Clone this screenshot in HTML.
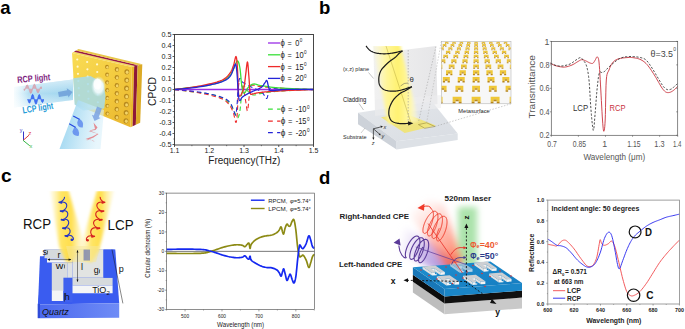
<!DOCTYPE html>
<html><head><meta charset="utf-8"><style>
html,body{margin:0;padding:0;background:#fff;}
body{width:685px;height:329px;overflow:hidden;}
svg{display:block;font-family:"Liberation Sans", sans-serif;}
</style></head><body>
<svg width="685" height="329" viewBox="0 0 685 329">
<text x="0.30" y="14.20" font-size="18.5" fill="#000" text-anchor="start" font-weight="bold">a</text>
<text x="319.00" y="14.20" font-size="18.5" fill="#000" text-anchor="start" font-weight="bold">b</text>
<text x="0.90" y="182.30" font-size="19.2" fill="#000" text-anchor="start" font-weight="bold">c</text>
<text x="319.00" y="184.00" font-size="18.5" fill="#000" text-anchor="start" font-weight="bold">d</text>
<defs>
<linearGradient id="beamIn" x1="0" y1="0" x2="1" y2="0">
 <stop offset="0" stop-color="#cfeefa" stop-opacity="0.2"/>
 <stop offset="0.25" stop-color="#b2def2" stop-opacity="0.95"/>
 <stop offset="1" stop-color="#9dd4ee" stop-opacity="1"/>
</linearGradient>
<linearGradient id="beamInV" x1="0" y1="0" x2="0" y2="1">
 <stop offset="0" stop-color="#fff" stop-opacity="0.55"/>
 <stop offset="0.5" stop-color="#fff" stop-opacity="0"/>
 <stop offset="1" stop-color="#fff" stop-opacity="0.55"/>
</linearGradient>
<linearGradient id="beamOut" x1="0" y1="0" x2="1" y2="0.25">
 <stop offset="0" stop-color="#8ccfee" stop-opacity="0.95"/>
 <stop offset="0.5" stop-color="#b4e0f4" stop-opacity="0.85"/>
 <stop offset="1" stop-color="#d8f0fa" stop-opacity="0.6"/>
</linearGradient>
<linearGradient id="gold" x1="0" y1="0" x2="1" y2="1">
 <stop offset="0" stop-color="#f9dc55"/>
 <stop offset="0.5" stop-color="#f4cc40"/>
 <stop offset="1" stop-color="#e8b42c"/>
</linearGradient>
<radialGradient id="spot" cx="0.5" cy="0.5" r="0.5">
 <stop offset="0" stop-color="#ffffff" stop-opacity="0.95"/>
 <stop offset="0.5" stop-color="#e6f6fb" stop-opacity="0.8"/>
 <stop offset="1" stop-color="#bfe6f3" stop-opacity="0"/>
</radialGradient>
<linearGradient id="hole" x1="0" y1="0" x2="1" y2="1">
 <stop offset="0" stop-color="#8a6a18"/>
 <stop offset="1" stop-color="#f2d46a"/>
</linearGradient>
</defs>
<polygon points="14.00,87.00 73.00,79.50 73.00,100.00 14.00,107.50" fill="url(#beamIn)"/>
<polygon points="14.00,87.00 73.00,79.50 73.00,100.00 14.00,107.50" fill="url(#beamInV)"/>
<polygon points="72.00,53.00 131.90,66.90 135.02,66.09 73.95,51.80" fill="#f4d860"/>
<polygon points="73.95,51.80 135.02,66.09 138.35,65.23 76.03,50.52" fill="#9a1a40"/>
<polygon points="76.03,50.52 138.35,65.23 142.30,64.20 78.50,49.00" fill="#e8c64a"/>
<polygon points="131.90,66.90 130.50,127.20 132.63,126.23 134.19,66.31" fill="#e9b92c"/>
<polygon points="134.19,66.31 132.63,126.23 135.83,124.78 137.62,65.42" fill="#8e1838"/>
<polygon points="137.62,65.42 135.83,124.78 140.20,122.80 142.30,64.20" fill="#dcaa26"/>
<polygon points="72.00,53.00 131.90,66.90 130.50,127.20 75.00,104.50" fill="url(#gold)"/>
<circle cx="77.26" cy="59.52" r="1.1" fill="#fffbd8" opacity="0.95"/>
<circle cx="77.62" cy="66.68" r="1.1" fill="#fffbd8" opacity="0.95"/>
<circle cx="77.98" cy="73.84" r="1.1" fill="#fffbd8" opacity="0.95"/>
<circle cx="78.34" cy="80.99" r="1.1" fill="#fffbd8" opacity="0.95"/>
<circle cx="78.71" cy="88.15" r="1.1" fill="#fffbd8" opacity="0.95"/>
<circle cx="79.07" cy="95.30" r="1.1" fill="#fffbd8" opacity="0.95"/>
<circle cx="79.43" cy="102.46" r="1.1" fill="#fffbd8" opacity="0.95"/>
<circle cx="87.17" cy="61.99" r="1.1" fill="#fffbd8" opacity="0.95"/>
<circle cx="87.43" cy="69.35" r="1.1" fill="#fffbd8" opacity="0.95"/>
<circle cx="87.69" cy="76.70" r="1.1" fill="#fffbd8" opacity="0.95"/>
<circle cx="87.95" cy="84.06" r="1.1" fill="#fffbd8" opacity="0.95"/>
<circle cx="88.21" cy="91.42" r="1.1" fill="#fffbd8" opacity="0.95"/>
<circle cx="88.47" cy="98.77" r="1.1" fill="#fffbd8" opacity="0.95"/>
<circle cx="88.73" cy="106.13" r="1.1" fill="#fffbd8" opacity="0.95"/>
<circle cx="97.08" cy="64.46" r="1.1" fill="#fffbd8" opacity="0.95"/>
<circle cx="97.24" cy="72.02" r="1.1" fill="#fffbd8" opacity="0.95"/>
<circle cx="97.40" cy="79.57" r="1.1" fill="#fffbd8" opacity="0.95"/>
<circle cx="97.56" cy="87.13" r="1.1" fill="#fffbd8" opacity="0.95"/>
<circle cx="97.72" cy="94.69" r="1.1" fill="#fffbd8" opacity="0.95"/>
<circle cx="97.88" cy="102.24" r="1.1" fill="#fffbd8" opacity="0.95"/>
<circle cx="98.04" cy="109.80" r="1.1" fill="#fffbd8" opacity="0.95"/>
<ellipse cx="106.99" cy="66.93" rx="1.90" ry="2.09" fill="#b88a1e"/>
<ellipse cx="107.34" cy="67.33" rx="1.18" ry="1.33" fill="#f3d468"/>
<ellipse cx="107.05" cy="74.68" rx="1.90" ry="2.09" fill="#b88a1e"/>
<ellipse cx="107.40" cy="75.08" rx="1.18" ry="1.33" fill="#f3d468"/>
<ellipse cx="107.10" cy="82.44" rx="1.90" ry="2.09" fill="#b88a1e"/>
<ellipse cx="107.45" cy="82.84" rx="1.18" ry="1.33" fill="#f3d468"/>
<ellipse cx="107.16" cy="90.20" rx="1.90" ry="2.09" fill="#b88a1e"/>
<ellipse cx="107.51" cy="90.60" rx="1.18" ry="1.33" fill="#f3d468"/>
<ellipse cx="107.22" cy="97.96" rx="1.90" ry="2.09" fill="#b88a1e"/>
<ellipse cx="107.57" cy="98.36" rx="1.18" ry="1.33" fill="#f3d468"/>
<ellipse cx="107.28" cy="105.72" rx="1.90" ry="2.09" fill="#b88a1e"/>
<ellipse cx="107.63" cy="106.12" rx="1.18" ry="1.33" fill="#f3d468"/>
<ellipse cx="107.34" cy="113.47" rx="1.90" ry="2.09" fill="#b88a1e"/>
<ellipse cx="107.69" cy="113.87" rx="1.18" ry="1.33" fill="#f3d468"/>
<ellipse cx="116.89" cy="69.39" rx="2.15" ry="2.37" fill="#b88a1e"/>
<ellipse cx="117.24" cy="69.79" rx="1.33" ry="1.50" fill="#f3d468"/>
<ellipse cx="116.85" cy="77.35" rx="2.15" ry="2.37" fill="#b88a1e"/>
<ellipse cx="117.20" cy="77.75" rx="1.33" ry="1.50" fill="#f3d468"/>
<ellipse cx="116.81" cy="85.31" rx="2.15" ry="2.37" fill="#b88a1e"/>
<ellipse cx="117.16" cy="85.71" rx="1.33" ry="1.50" fill="#f3d468"/>
<ellipse cx="116.77" cy="93.27" rx="2.15" ry="2.37" fill="#b88a1e"/>
<ellipse cx="117.12" cy="93.67" rx="1.33" ry="1.50" fill="#f3d468"/>
<ellipse cx="116.73" cy="101.23" rx="2.15" ry="2.37" fill="#b88a1e"/>
<ellipse cx="117.08" cy="101.63" rx="1.33" ry="1.50" fill="#f3d468"/>
<ellipse cx="116.69" cy="109.19" rx="2.15" ry="2.37" fill="#b88a1e"/>
<ellipse cx="117.04" cy="109.59" rx="1.33" ry="1.50" fill="#f3d468"/>
<ellipse cx="116.65" cy="117.15" rx="2.15" ry="2.37" fill="#b88a1e"/>
<ellipse cx="117.00" cy="117.55" rx="1.33" ry="1.50" fill="#f3d468"/>
<ellipse cx="126.80" cy="71.86" rx="2.40" ry="2.64" fill="#b88a1e"/>
<ellipse cx="127.15" cy="72.26" rx="1.49" ry="1.68" fill="#f3d468"/>
<ellipse cx="126.66" cy="80.02" rx="2.40" ry="2.64" fill="#b88a1e"/>
<ellipse cx="127.01" cy="80.42" rx="1.49" ry="1.68" fill="#f3d468"/>
<ellipse cx="126.52" cy="88.18" rx="2.40" ry="2.64" fill="#b88a1e"/>
<ellipse cx="126.87" cy="88.58" rx="1.49" ry="1.68" fill="#f3d468"/>
<ellipse cx="126.38" cy="96.34" rx="2.40" ry="2.64" fill="#b88a1e"/>
<ellipse cx="126.73" cy="96.74" rx="1.49" ry="1.68" fill="#f3d468"/>
<ellipse cx="126.24" cy="104.50" rx="2.40" ry="2.64" fill="#b88a1e"/>
<ellipse cx="126.59" cy="104.90" rx="1.49" ry="1.68" fill="#f3d468"/>
<ellipse cx="126.09" cy="112.66" rx="2.40" ry="2.64" fill="#b88a1e"/>
<ellipse cx="126.44" cy="113.06" rx="1.49" ry="1.68" fill="#f3d468"/>
<ellipse cx="125.95" cy="120.82" rx="2.40" ry="2.64" fill="#b88a1e"/>
<ellipse cx="126.30" cy="121.22" rx="1.49" ry="1.68" fill="#f3d468"/>
<defs><radialGradient id="blob" cx="0.5" cy="0.5" r="0.5"><stop offset="0" stop-color="#ffffff" stop-opacity="1"/><stop offset="0.6" stop-color="#f2fbfd" stop-opacity="0.9"/><stop offset="1" stop-color="#d8f0f4" stop-opacity="0"/></radialGradient></defs>
<polygon points="73.20,78.20 90.50,76.00 103.30,83.00 105.50,96.00 104.20,108.50 83.20,110.50 74.50,104.50" fill="#a6dcec" opacity="0.85"/>
<ellipse cx="98.5" cy="86.5" rx="7.5" ry="10.5" fill="url(#blob)"/>
<ellipse cx="97.5" cy="84" rx="4" ry="5.5" fill="#ffffff" opacity="0.8"/>
<polygon points="78.00,100.00 104.00,110.00 100.50,149.00 59.50,149.00" fill="url(#beamOut)"/>
<polygon points="58.96,97.06 68.03,95.44 68.42,97.60 72.50,92.00 66.73,88.15 67.12,90.32 58.04,91.94" fill="#6e9fd8" opacity="0.85"/>
<polygon points="97.06,106.60 93.80,115.41 91.92,114.71 94.50,121.00 100.55,117.91 98.67,117.21 101.94,108.40" fill="#7aa2e2" opacity="0.85"/>
<path d="M24.0,88.8 L24.00,88.80 L24.22,90.42 L24.44,90.41 L24.66,90.17 L24.88,89.78 L25.09,89.27 L25.31,88.70 L25.53,88.07 L25.75,87.44 L25.97,86.82 L26.19,86.24 L26.41,85.74 L26.62,85.34 L26.84,85.05 L27.06,84.89 L27.28,84.88 L27.50,85.01 L27.72,85.28 L27.94,85.70 L28.16,86.23 L28.38,86.88 L28.59,87.60 L28.81,88.38 L29.03,89.20 L29.25,90.00 L29.47,90.78 L29.69,91.50 L29.91,92.12 L30.12,92.64 L30.34,93.02 L30.56,93.25 L30.78,93.33 L31.00,93.24 L31.22,92.99 L31.44,92.59 L31.66,92.05 L31.88,91.40 L32.09,90.65 L32.31,89.83 L32.53,88.97 L32.75,88.11 L32.97,87.27 L33.19,86.49 L33.41,85.79 L33.62,85.20 L33.84,84.74 L34.06,84.42 L34.28,84.27 L34.50,84.27 L34.72,84.44 L34.94,84.76 L35.16,85.23 L35.38,85.81 L35.59,86.50 L35.81,87.26 L36.03,88.07 L36.25,88.89 L36.47,89.70 L36.69,90.47 L36.91,91.16 L37.12,91.75 L37.34,92.23 L37.56,92.57 L37.78,92.77 L38.00,92.82 L38.22,92.73 L38.44,92.50 L38.66,92.13 L38.88,91.66 L39.09,91.10 L39.31,90.48 L39.53,89.83 L39.75,89.17 L39.97,88.53 L40.19,87.95 L40.41,87.45 L40.62,87.06 L40.84,86.81 L41.06,86.72 L41.28,86.88 L41.50,88.80 L41.5,88.8 Z" fill="#d99aa6" opacity="0.75"/>
<path d="M24.00,88.80 L24.22,90.42 L24.44,90.41 L24.66,90.17 L24.88,89.78 L25.09,89.27 L25.31,88.70 L25.53,88.07 L25.75,87.44 L25.97,86.82 L26.19,86.24 L26.41,85.74 L26.62,85.34 L26.84,85.05 L27.06,84.89 L27.28,84.88 L27.50,85.01 L27.72,85.28 L27.94,85.70 L28.16,86.23 L28.38,86.88 L28.59,87.60 L28.81,88.38 L29.03,89.20 L29.25,90.00 L29.47,90.78 L29.69,91.50 L29.91,92.12 L30.12,92.64 L30.34,93.02 L30.56,93.25 L30.78,93.33 L31.00,93.24 L31.22,92.99 L31.44,92.59 L31.66,92.05 L31.88,91.40 L32.09,90.65 L32.31,89.83 L32.53,88.97 L32.75,88.11 L32.97,87.27 L33.19,86.49 L33.41,85.79 L33.62,85.20 L33.84,84.74 L34.06,84.42 L34.28,84.27 L34.50,84.27 L34.72,84.44 L34.94,84.76 L35.16,85.23 L35.38,85.81 L35.59,86.50 L35.81,87.26 L36.03,88.07 L36.25,88.89 L36.47,89.70 L36.69,90.47 L36.91,91.16 L37.12,91.75 L37.34,92.23 L37.56,92.57 L37.78,92.77 L38.00,92.82 L38.22,92.73 L38.44,92.50 L38.66,92.13 L38.88,91.66 L39.09,91.10 L39.31,90.48 L39.53,89.83 L39.75,89.17 L39.97,88.53 L40.19,87.95 L40.41,87.45 L40.62,87.06 L40.84,86.81 L41.06,86.72 L41.28,86.88 L41.50,88.80" fill="none" stroke="#d99aa6" stroke-width="0.8" opacity="0.95"/>
<path d="M27.5,99.2 L27.50,99.20 L27.70,99.46 L27.90,99.99 L28.10,100.58 L28.30,101.18 L28.50,101.73 L28.70,102.22 L28.90,102.62 L29.10,102.89 L29.30,103.03 L29.50,103.03 L29.70,102.87 L29.90,102.57 L30.10,102.12 L30.30,101.55 L30.50,100.88 L30.70,100.12 L30.90,99.30 L31.10,98.47 L31.30,97.64 L31.50,96.85 L31.70,96.12 L31.90,95.50 L32.10,95.00 L32.30,94.64 L32.50,94.45 L32.70,94.42 L32.90,94.56 L33.10,94.87 L33.30,95.33 L33.50,95.94 L33.70,96.67 L33.90,97.50 L34.10,98.39 L34.30,99.32 L34.50,100.24 L34.70,101.13 L34.90,101.96 L35.10,102.69 L35.30,103.30 L35.50,103.76 L35.70,104.06 L35.90,104.19 L36.10,104.14 L36.30,103.92 L36.50,103.53 L36.70,102.99 L36.90,102.31 L37.10,101.53 L37.30,100.68 L37.50,99.77 L37.70,98.86 L37.90,97.96 L38.10,97.12 L38.30,96.36 L38.50,95.71 L38.70,95.19 L38.90,94.82 L39.10,94.61 L39.30,94.57 L39.50,94.70 L39.70,94.98 L39.90,95.40 L40.10,95.96 L40.30,96.61 L40.50,97.34 L40.70,98.12 L40.90,98.91 L41.10,99.68 L41.30,100.41 L41.50,101.06 L41.70,101.61 L41.90,102.04 L42.10,102.34 L42.30,102.49 L42.50,102.49 L42.70,102.34 L42.90,102.05 L43.10,101.61 L43.30,101.02 L43.50,99.20 L43.5,99.2 Z" fill="#2f5ff0" opacity="0.85"/>
<path d="M27.50,99.20 L27.70,99.46 L27.90,99.99 L28.10,100.58 L28.30,101.18 L28.50,101.73 L28.70,102.22 L28.90,102.62 L29.10,102.89 L29.30,103.03 L29.50,103.03 L29.70,102.87 L29.90,102.57 L30.10,102.12 L30.30,101.55 L30.50,100.88 L30.70,100.12 L30.90,99.30 L31.10,98.47 L31.30,97.64 L31.50,96.85 L31.70,96.12 L31.90,95.50 L32.10,95.00 L32.30,94.64 L32.50,94.45 L32.70,94.42 L32.90,94.56 L33.10,94.87 L33.30,95.33 L33.50,95.94 L33.70,96.67 L33.90,97.50 L34.10,98.39 L34.30,99.32 L34.50,100.24 L34.70,101.13 L34.90,101.96 L35.10,102.69 L35.30,103.30 L35.50,103.76 L35.70,104.06 L35.90,104.19 L36.10,104.14 L36.30,103.92 L36.50,103.53 L36.70,102.99 L36.90,102.31 L37.10,101.53 L37.30,100.68 L37.50,99.77 L37.70,98.86 L37.90,97.96 L38.10,97.12 L38.30,96.36 L38.50,95.71 L38.70,95.19 L38.90,94.82 L39.10,94.61 L39.30,94.57 L39.50,94.70 L39.70,94.98 L39.90,95.40 L40.10,95.96 L40.30,96.61 L40.50,97.34 L40.70,98.12 L40.90,98.91 L41.10,99.68 L41.30,100.41 L41.50,101.06 L41.70,101.61 L41.90,102.04 L42.10,102.34 L42.30,102.49 L42.50,102.49 L42.70,102.34 L42.90,102.05 L43.10,101.61 L43.30,101.02 L43.50,99.20" fill="none" stroke="#2f5ff0" stroke-width="0.8" opacity="1"/>
<text x="17.50" y="83.00" font-size="9.2" fill="#7e1e80" text-anchor="start" font-weight="bold" textLength="33" lengthAdjust="spacingAndGlyphs" transform="rotate(-5 17.50 83.00)">RCP light</text>
<text x="23.00" y="113.50" font-size="9.2" fill="#1f9bd7" text-anchor="start" font-weight="bold" textLength="31" lengthAdjust="spacingAndGlyphs" transform="rotate(-9 23.00 113.50)">LCP light</text>
<path d="M73.2,116 L79.8,119.6 M69.2,123.8 L75.8,127.6" fill="none" stroke="#2346e0" stroke-width="1.1"/>
<path d="M78.6,118.6 Q84.5,121 82.8,127.4 Q77.5,128 77.2,122.5 Z M74.6,126.6 Q80.2,129.5 78.8,135.8 Q73,136.5 72.4,131.5 Z" fill="#4a78ec" opacity="0.7"/>
<path d="M93.5,122.5 L97.5,127.5 L95.5,130 L88.5,131 L97.5,133.8 L92.5,136.5 L85.5,139 L93,140.5 L95,142 L90,139.5 L86,140.5 L93.5,137.5 L98.5,134 L89.5,130.5 L95,129 Z" fill="#e46a70" opacity="0.75"/>
<line x1="23.50" y1="140.40" x2="23.50" y2="131.50" stroke="#3535c8" stroke-width="1.0"/>
<text x="19.80" y="131.60" font-size="5.2" fill="#3535c8" text-anchor="start">y</text>
<line x1="23.10" y1="140.40" x2="29.00" y2="135.20" stroke="#e03a3a" stroke-width="1.0"/>
<text x="28.60" y="134.60" font-size="5.6" fill="#e03a3a" text-anchor="start">z</text>
<line x1="23.10" y1="140.40" x2="29.80" y2="145.80" stroke="#35b845" stroke-width="1.0"/>
<text x="29.60" y="147.60" font-size="5.6" fill="#35b845" text-anchor="start">x</text>
<path d="M174.50,89.50 L175.84,89.67 L177.62,89.90 L179.74,90.16 L182.10,90.46 L184.60,90.78 L187.12,91.10 L189.58,91.41 L191.87,91.70 L194.07,91.96 L196.30,92.20 L198.54,92.43 L200.78,92.66 L202.99,92.91 L205.15,93.20 L207.24,93.52 L209.25,93.90 L211.20,94.34 L213.13,94.82 L215.02,95.34 L216.85,95.89 L218.60,96.47 L220.25,97.07 L221.77,97.68 L223.15,98.30 L224.37,98.92 L225.44,99.55 L226.39,100.19 L227.23,100.84 L228.00,101.53 L228.72,102.24 L229.41,103.00 L230.10,103.80 L230.76,104.66 L231.36,105.60 L231.91,106.57 L232.42,107.58 L232.90,108.60 L233.37,109.60 L233.82,110.58 L234.27,111.50 L234.72,112.47 L235.14,113.54 L235.55,114.64 L235.94,115.69 L236.32,116.64 L236.69,117.40 L237.05,117.91 L237.40,118.10 L237.74,117.97 L238.07,117.61 L238.39,117.03 L238.70,116.24 L239.00,115.28 L239.29,114.16 L239.56,112.89 L239.83,111.50 L240.08,109.85 L240.32,107.86 L240.55,105.65 L240.76,103.32 L240.97,100.98 L241.17,98.74 L241.37,96.71 L241.57,95.00 L241.76,93.57 L241.93,92.30 L242.10,91.18 L242.26,90.19 L242.43,89.32 L242.59,88.55 L242.77,87.89 L242.96,87.30 L243.15,86.81 L243.34,86.43 L243.54,86.16 L243.74,85.99 L243.95,85.92 L244.18,85.93 L244.43,86.03 L244.69,86.20 L244.99,86.49 L245.30,86.94 L245.63,87.50 L245.98,88.13 L246.34,88.79 L246.71,89.45 L247.09,90.07 L247.47,90.60 L247.88,91.08 L248.29,91.55 L248.73,92.01 L249.17,92.46 L249.62,92.87 L250.06,93.26 L250.51,93.60 L250.95,93.90 L251.36,94.16 L251.74,94.39 L252.10,94.59 L252.47,94.76 L252.87,94.89 L253.31,94.97 L253.82,95.01 L254.43,95.00 L255.06,94.93 L255.67,94.79 L256.32,94.61 L257.03,94.38 L257.85,94.13 L258.82,93.87 L259.98,93.60 L261.38,93.35 L262.93,93.10 L264.58,92.83 L266.36,92.54 L268.32,92.25 L270.50,91.96 L272.94,91.67 L275.68,91.40 L278.75,91.15 L282.50,90.91 L287.03,90.66 L292.04,90.42 L297.21,90.19 L302.25,89.97 L306.85,89.78 L310.70,89.62 L313.50,89.50" fill="none" stroke="#39e039" stroke-width="1.1" stroke-linejoin="round" stroke-linecap="butt" stroke-dasharray="4.5,3"/>
<path d="M174.50,89.50 L175.84,89.66 L177.62,89.87 L179.74,90.12 L182.10,90.39 L184.60,90.70 L187.12,91.02 L189.58,91.36 L191.87,91.70 L194.07,92.05 L196.30,92.42 L198.54,92.81 L200.78,93.21 L202.99,93.63 L205.15,94.07 L207.24,94.53 L209.25,95.00 L211.20,95.48 L213.13,95.97 L215.02,96.47 L216.85,96.99 L218.60,97.54 L220.25,98.12 L221.77,98.74 L223.15,99.40 L224.38,100.11 L225.46,100.87 L226.42,101.67 L227.28,102.49 L228.05,103.35 L228.77,104.22 L229.45,105.11 L230.10,106.00 L230.71,106.90 L231.24,107.82 L231.70,108.76 L232.12,109.71 L232.50,110.68 L232.86,111.67 L233.21,112.68 L233.57,113.70 L233.94,114.88 L234.28,116.29 L234.61,117.79 L234.92,119.27 L235.22,120.60 L235.50,121.67 L235.76,122.34 L236.01,122.50 L236.23,122.16 L236.44,121.45 L236.62,120.41 L236.79,119.06 L236.95,117.46 L237.10,115.64 L237.25,113.64 L237.40,111.50 L237.54,108.97 L237.68,105.91 L237.81,102.52 L237.94,98.99 L238.06,95.50 L238.19,92.27 L238.31,89.47 L238.44,87.30 L238.56,85.76 L238.68,84.65 L238.79,83.91 L238.90,83.45 L239.02,83.20 L239.15,83.07 L239.30,83.00 L239.48,82.90 L239.69,82.83 L239.92,82.89 L240.17,83.07 L240.44,83.34 L240.71,83.70 L241.00,84.12 L241.28,84.59 L241.57,85.10 L241.86,85.65 L242.17,86.26 L242.48,86.92 L242.81,87.65 L243.12,88.44 L243.43,89.30 L243.73,90.22 L244.00,91.22 L244.25,92.31 L244.48,93.52 L244.70,94.81 L244.91,96.16 L245.12,97.53 L245.32,98.90 L245.53,100.24 L245.74,101.51 L245.96,102.87 L246.18,104.41 L246.40,106.02 L246.63,107.57 L246.85,108.96 L247.07,110.06 L247.27,110.76 L247.47,110.95 L247.67,110.55 L247.85,109.65 L248.02,108.35 L248.19,106.77 L248.36,105.01 L248.53,103.19 L248.69,101.41 L248.87,99.80 L249.03,98.19 L249.19,96.44 L249.34,94.61 L249.49,92.78 L249.66,91.02 L249.83,89.41 L250.03,88.02 L250.25,86.93 L250.49,86.15 L250.72,85.62 L250.97,85.30 L251.23,85.14 L251.53,85.09 L251.86,85.09 L252.24,85.11 L252.69,85.10 L253.17,85.10 L253.67,85.17 L254.21,85.30 L254.79,85.47 L255.44,85.66 L256.17,85.86 L256.98,86.04 L257.90,86.20 L258.91,86.34 L259.98,86.48 L261.12,86.61 L262.35,86.75 L263.68,86.89 L265.11,87.03 L266.65,87.16 L268.32,87.30 L270.09,87.44 L271.94,87.58 L273.87,87.71 L275.93,87.85 L278.12,87.99 L280.46,88.12 L282.98,88.26 L285.70,88.40 L288.87,88.55 L292.57,88.70 L296.58,88.86 L300.69,89.02 L304.65,89.17 L308.26,89.30 L311.28,89.42 L313.50,89.50" fill="none" stroke="#ee2a2a" stroke-width="1.1" stroke-linejoin="round" stroke-linecap="butt" stroke-dasharray="4.5,3"/>
<path d="M174.50,89.50 L175.84,89.62 L177.62,89.77 L179.74,89.95 L182.10,90.15 L184.60,90.38 L187.12,90.62 L189.58,90.88 L191.87,91.15 L194.07,91.43 L196.30,91.73 L198.54,92.05 L200.78,92.39 L202.99,92.74 L205.15,93.11 L207.24,93.50 L209.25,93.90 L211.20,94.32 L213.13,94.76 L215.02,95.21 L216.85,95.69 L218.60,96.18 L220.25,96.68 L221.77,97.21 L223.15,97.75 L224.38,98.30 L225.46,98.85 L226.42,99.40 L227.28,99.98 L228.05,100.59 L228.77,101.24 L229.45,101.94 L230.10,102.70 L230.71,103.55 L231.25,104.51 L231.72,105.53 L232.14,106.58 L232.53,107.63 L232.89,108.64 L233.23,109.58 L233.57,110.40 L233.91,111.21 L234.21,112.07 L234.49,112.92 L234.75,113.70 L234.99,114.34 L235.22,114.78 L235.44,114.96 L235.66,114.80 L235.87,114.32 L236.06,113.59 L236.23,112.62 L236.40,111.43 L236.56,110.05 L236.72,108.48 L236.88,106.76 L237.05,104.90 L237.22,102.71 L237.40,100.09 L237.57,97.19 L237.74,94.18 L237.92,91.19 L238.09,88.40 L238.27,85.95 L238.44,84.00 L238.61,82.52 L238.76,81.34 L238.92,80.42 L239.07,79.74 L239.23,79.24 L239.41,78.90 L239.61,78.66 L239.83,78.50 L240.07,78.49 L240.30,78.71 L240.54,79.09 L240.81,79.60 L241.10,80.18 L241.43,80.77 L241.82,81.33 L242.26,81.80 L242.77,82.21 L243.33,82.62 L243.94,83.04 L244.59,83.45 L245.27,83.86 L245.98,84.27 L246.72,84.69 L247.47,85.10 L248.26,85.51 L249.09,85.92 L249.95,86.34 L250.84,86.75 L251.74,87.16 L252.65,87.58 L253.54,87.99 L254.43,88.40 L255.32,88.80 L256.24,89.20 L257.18,89.59 L258.12,89.98 L259.02,90.38 L259.88,90.80 L260.67,91.23 L261.38,91.70 L261.99,92.21 L262.52,92.77 L262.99,93.37 L263.42,93.97 L263.80,94.56 L264.16,95.13 L264.51,95.65 L264.85,96.10 L265.18,96.55 L265.47,97.04 L265.73,97.52 L265.98,97.96 L266.21,98.30 L266.45,98.50 L266.68,98.51 L266.94,98.30 L267.19,97.77 L267.44,96.94 L267.69,95.90 L267.93,94.72 L268.19,93.52 L268.45,92.37 L268.73,91.37 L269.02,90.60 L269.26,90.04 L269.41,89.59 L269.52,89.23 L269.67,88.95 L269.91,88.74 L270.31,88.59 L270.92,88.48 L271.80,88.40 L272.91,88.39 L274.17,88.47 L275.59,88.62 L277.19,88.81 L278.98,89.02 L280.99,89.23 L283.22,89.39 L285.70,89.50 L288.70,89.55 L292.32,89.58 L296.33,89.58 L300.47,89.57 L304.50,89.55 L308.18,89.53 L311.26,89.51 L313.50,89.50" fill="none" stroke="#2424d8" stroke-width="1.1" stroke-linejoin="round" stroke-linecap="butt" stroke-dasharray="4.5,3"/>
<line x1="174.50" y1="89.50" x2="313.50" y2="89.50" stroke="#9a2ee6" stroke-width="1.3"/>
<path d="M174.50,89.50 L175.84,89.33 L177.62,89.10 L179.74,88.84 L182.10,88.54 L184.60,88.22 L187.12,87.90 L189.58,87.59 L191.87,87.30 L194.07,87.04 L196.30,86.80 L198.54,86.57 L200.78,86.34 L202.99,86.09 L205.15,85.80 L207.24,85.48 L209.25,85.10 L211.20,84.66 L213.13,84.18 L215.02,83.66 L216.85,83.11 L218.60,82.53 L220.25,81.93 L221.77,81.32 L223.15,80.70 L224.37,80.08 L225.44,79.45 L226.39,78.81 L227.23,78.16 L228.00,77.47 L228.72,76.76 L229.41,76.00 L230.10,75.20 L230.76,74.34 L231.36,73.40 L231.91,72.43 L232.42,71.42 L232.90,70.40 L233.37,69.40 L233.82,68.42 L234.27,67.50 L234.72,66.53 L235.14,65.46 L235.55,64.36 L235.94,63.31 L236.32,62.36 L236.69,61.60 L237.05,61.09 L237.40,60.90 L237.74,61.03 L238.07,61.39 L238.39,61.97 L238.70,62.76 L239.00,63.72 L239.29,64.84 L239.56,66.11 L239.83,67.50 L240.08,69.15 L240.32,71.14 L240.55,73.35 L240.76,75.68 L240.97,78.02 L241.17,80.26 L241.37,82.29 L241.57,84.00 L241.76,85.43 L241.93,86.70 L242.10,87.82 L242.26,88.81 L242.43,89.68 L242.59,90.45 L242.77,91.11 L242.96,91.70 L243.15,92.19 L243.34,92.57 L243.54,92.84 L243.74,93.01 L243.95,93.08 L244.18,93.07 L244.43,92.97 L244.69,92.80 L244.99,92.51 L245.30,92.06 L245.63,91.50 L245.98,90.87 L246.34,90.21 L246.71,89.55 L247.09,88.93 L247.47,88.40 L247.88,87.92 L248.29,87.45 L248.73,86.99 L249.17,86.54 L249.62,86.13 L250.06,85.74 L250.51,85.40 L250.95,85.10 L251.36,84.84 L251.74,84.61 L252.10,84.41 L252.47,84.24 L252.87,84.11 L253.31,84.03 L253.82,83.99 L254.43,84.00 L255.06,84.07 L255.67,84.21 L256.32,84.39 L257.03,84.62 L257.85,84.87 L258.82,85.13 L259.98,85.40 L261.38,85.65 L262.93,85.90 L264.58,86.17 L266.36,86.46 L268.32,86.75 L270.50,87.04 L272.94,87.33 L275.68,87.60 L278.75,87.85 L282.50,88.09 L287.03,88.34 L292.04,88.58 L297.21,88.81 L302.25,89.03 L306.85,89.22 L310.70,89.38 L313.50,89.50" fill="none" stroke="#39e039" stroke-width="1.3" stroke-linejoin="round" stroke-linecap="butt"/>
<path d="M174.50,89.50 L175.84,89.34 L177.62,89.13 L179.74,88.88 L182.10,88.61 L184.60,88.30 L187.12,87.98 L189.58,87.64 L191.87,87.30 L194.07,86.95 L196.30,86.58 L198.54,86.19 L200.78,85.79 L202.99,85.37 L205.15,84.93 L207.24,84.47 L209.25,84.00 L211.20,83.52 L213.13,83.03 L215.02,82.53 L216.85,82.01 L218.60,81.46 L220.25,80.88 L221.77,80.26 L223.15,79.60 L224.38,78.89 L225.46,78.13 L226.42,77.33 L227.28,76.51 L228.05,75.65 L228.77,74.78 L229.45,73.89 L230.10,73.00 L230.71,72.10 L231.24,71.18 L231.70,70.24 L232.12,69.29 L232.50,68.32 L232.86,67.33 L233.21,66.32 L233.57,65.30 L233.94,64.12 L234.28,62.71 L234.61,61.21 L234.92,59.73 L235.22,58.40 L235.50,57.33 L235.76,56.66 L236.01,56.50 L236.23,56.84 L236.44,57.55 L236.62,58.59 L236.79,59.94 L236.95,61.54 L237.10,63.36 L237.25,65.36 L237.40,67.50 L237.54,70.03 L237.68,73.09 L237.81,76.48 L237.94,80.01 L238.06,83.50 L238.19,86.73 L238.31,89.53 L238.44,91.70 L238.56,93.24 L238.68,94.35 L238.79,95.09 L238.90,95.55 L239.02,95.80 L239.15,95.93 L239.30,96.00 L239.48,96.10 L239.69,96.17 L239.92,96.12 L240.17,95.95 L240.44,95.69 L240.71,95.34 L241.00,94.91 L241.28,94.43 L241.57,93.90 L241.86,93.33 L242.17,92.71 L242.48,92.04 L242.81,91.29 L243.12,90.45 L243.43,89.52 L243.73,88.47 L244.00,87.30 L244.25,85.96 L244.48,84.44 L244.70,82.79 L244.91,81.04 L245.12,79.26 L245.32,77.48 L245.53,75.74 L245.74,74.10 L245.96,72.35 L246.18,70.38 L246.40,68.32 L246.63,66.33 L246.85,64.56 L247.07,63.14 L247.27,62.24 L247.47,62.00 L247.67,62.51 L247.85,63.67 L248.02,65.33 L248.19,67.36 L248.36,69.62 L248.53,71.95 L248.69,74.23 L248.87,76.30 L249.03,78.36 L249.19,80.63 L249.34,83.00 L249.49,85.38 L249.66,87.64 L249.83,89.71 L250.03,91.46 L250.25,92.80 L250.49,93.69 L250.72,94.21 L250.97,94.44 L251.23,94.45 L251.53,94.33 L251.86,94.14 L252.24,93.97 L252.69,93.90 L253.17,93.87 L253.67,93.78 L254.21,93.65 L254.79,93.49 L255.44,93.31 L256.17,93.13 L256.98,92.95 L257.90,92.80 L258.91,92.66 L259.98,92.52 L261.12,92.39 L262.35,92.25 L263.68,92.11 L265.11,91.97 L266.65,91.84 L268.32,91.70 L270.09,91.56 L271.94,91.42 L273.87,91.29 L275.93,91.15 L278.12,91.01 L280.46,90.88 L282.98,90.74 L285.70,90.60 L288.87,90.45 L292.57,90.30 L296.58,90.14 L300.69,89.98 L304.65,89.83 L308.26,89.70 L311.28,89.58 L313.50,89.50" fill="none" stroke="#ee2a2a" stroke-width="1.3" stroke-linejoin="round" stroke-linecap="butt"/>
<path d="M174.50,89.50 L175.84,89.38 L177.62,89.23 L179.74,89.05 L182.10,88.85 L184.60,88.62 L187.12,88.38 L189.58,88.12 L191.87,87.85 L194.07,87.57 L196.30,87.27 L198.54,86.95 L200.78,86.61 L202.99,86.26 L205.15,85.89 L207.24,85.50 L209.25,85.10 L211.20,84.68 L213.13,84.24 L215.02,83.79 L216.85,83.31 L218.60,82.82 L220.25,82.32 L221.77,81.79 L223.15,81.25 L224.38,80.70 L225.46,80.15 L226.42,79.60 L227.28,79.02 L228.05,78.41 L228.77,77.76 L229.45,77.06 L230.10,76.30 L230.71,75.45 L231.25,74.49 L231.72,73.47 L232.14,72.42 L232.53,71.37 L232.89,70.36 L233.23,69.42 L233.57,68.60 L233.91,67.79 L234.21,66.93 L234.49,66.08 L234.75,65.30 L234.99,64.66 L235.22,64.22 L235.44,64.04 L235.66,64.20 L235.87,64.68 L236.06,65.41 L236.23,66.38 L236.40,67.57 L236.56,68.95 L236.72,70.52 L236.88,72.24 L237.05,74.10 L237.22,76.29 L237.40,78.91 L237.57,81.81 L237.74,84.82 L237.92,87.81 L238.09,90.60 L238.27,93.05 L238.44,95.00 L238.61,96.48 L238.76,97.66 L238.92,98.58 L239.07,99.26 L239.23,99.76 L239.41,100.10 L239.61,100.34 L239.83,100.50 L240.07,100.51 L240.30,100.29 L240.54,99.91 L240.81,99.40 L241.10,98.82 L241.43,98.23 L241.82,97.67 L242.26,97.20 L242.77,96.79 L243.33,96.38 L243.94,95.96 L244.59,95.55 L245.27,95.14 L245.98,94.73 L246.72,94.31 L247.47,93.90 L248.26,93.49 L249.09,93.08 L249.95,92.66 L250.84,92.25 L251.74,91.84 L252.65,91.42 L253.54,91.01 L254.43,90.60 L255.32,90.20 L256.24,89.80 L257.18,89.41 L258.12,89.02 L259.02,88.62 L259.88,88.20 L260.67,87.77 L261.38,87.30 L261.99,86.79 L262.52,86.23 L262.99,85.63 L263.42,85.03 L263.80,84.44 L264.16,83.87 L264.51,83.35 L264.85,82.90 L265.18,82.45 L265.47,81.96 L265.73,81.48 L265.98,81.04 L266.21,80.70 L266.45,80.50 L266.68,80.49 L266.94,80.70 L267.19,81.23 L267.44,82.06 L267.69,83.10 L267.93,84.28 L268.19,85.48 L268.45,86.63 L268.73,87.63 L269.02,88.40 L269.26,88.96 L269.41,89.41 L269.52,89.77 L269.67,90.05 L269.91,90.26 L270.31,90.41 L270.92,90.52 L271.80,90.60 L272.91,90.61 L274.17,90.53 L275.59,90.38 L277.19,90.19 L278.98,89.98 L280.99,89.77 L283.22,89.61 L285.70,89.50 L288.70,89.45 L292.32,89.42 L296.33,89.42 L300.47,89.43 L304.50,89.45 L308.18,89.47 L311.26,89.49 L313.50,89.50" fill="none" stroke="#2424d8" stroke-width="1.3" stroke-linejoin="round" stroke-linecap="butt"/>
<rect x="174.5" y="34.5" width="139.0" height="110.5" fill="none" stroke="#333" stroke-width="0.9"/>
<line x1="172.50" y1="34.50" x2="174.50" y2="34.50" stroke="#333" stroke-width="0.8"/>
<text x="171.60" y="37.30" font-size="7.8" fill="#222" text-anchor="end" textLength="10.0" lengthAdjust="spacingAndGlyphs">0.5</text>
<line x1="173.30" y1="40.00" x2="174.50" y2="40.00" stroke="#333" stroke-width="0.6"/>
<line x1="172.50" y1="45.50" x2="174.50" y2="45.50" stroke="#333" stroke-width="0.8"/>
<text x="171.60" y="48.30" font-size="7.8" fill="#222" text-anchor="end" textLength="10.0" lengthAdjust="spacingAndGlyphs">0.4</text>
<line x1="173.30" y1="51.00" x2="174.50" y2="51.00" stroke="#333" stroke-width="0.6"/>
<line x1="172.50" y1="56.50" x2="174.50" y2="56.50" stroke="#333" stroke-width="0.8"/>
<text x="171.60" y="59.30" font-size="7.8" fill="#222" text-anchor="end" textLength="10.0" lengthAdjust="spacingAndGlyphs">0.3</text>
<line x1="173.30" y1="62.00" x2="174.50" y2="62.00" stroke="#333" stroke-width="0.6"/>
<line x1="172.50" y1="67.50" x2="174.50" y2="67.50" stroke="#333" stroke-width="0.8"/>
<text x="171.60" y="70.30" font-size="7.8" fill="#222" text-anchor="end" textLength="10.0" lengthAdjust="spacingAndGlyphs">0.2</text>
<line x1="173.30" y1="73.00" x2="174.50" y2="73.00" stroke="#333" stroke-width="0.6"/>
<line x1="172.50" y1="78.50" x2="174.50" y2="78.50" stroke="#333" stroke-width="0.8"/>
<text x="171.60" y="81.30" font-size="7.8" fill="#222" text-anchor="end" textLength="10.0" lengthAdjust="spacingAndGlyphs">0.1</text>
<line x1="173.30" y1="84.00" x2="174.50" y2="84.00" stroke="#333" stroke-width="0.6"/>
<line x1="172.50" y1="89.50" x2="174.50" y2="89.50" stroke="#333" stroke-width="0.8"/>
<text x="171.60" y="92.30" font-size="7.8" fill="#222" text-anchor="end" textLength="10.0" lengthAdjust="spacingAndGlyphs">0.0</text>
<line x1="173.30" y1="95.00" x2="174.50" y2="95.00" stroke="#333" stroke-width="0.6"/>
<line x1="172.50" y1="100.50" x2="174.50" y2="100.50" stroke="#333" stroke-width="0.8"/>
<text x="171.60" y="103.30" font-size="7.8" fill="#222" text-anchor="end" textLength="12.4" lengthAdjust="spacingAndGlyphs">-0.1</text>
<line x1="173.30" y1="106.00" x2="174.50" y2="106.00" stroke="#333" stroke-width="0.6"/>
<line x1="172.50" y1="111.50" x2="174.50" y2="111.50" stroke="#333" stroke-width="0.8"/>
<text x="171.60" y="114.30" font-size="7.8" fill="#222" text-anchor="end" textLength="12.4" lengthAdjust="spacingAndGlyphs">-0.2</text>
<line x1="173.30" y1="117.00" x2="174.50" y2="117.00" stroke="#333" stroke-width="0.6"/>
<line x1="172.50" y1="122.50" x2="174.50" y2="122.50" stroke="#333" stroke-width="0.8"/>
<text x="171.60" y="125.30" font-size="7.8" fill="#222" text-anchor="end" textLength="12.4" lengthAdjust="spacingAndGlyphs">-0.3</text>
<line x1="173.30" y1="128.00" x2="174.50" y2="128.00" stroke="#333" stroke-width="0.6"/>
<line x1="172.50" y1="133.50" x2="174.50" y2="133.50" stroke="#333" stroke-width="0.8"/>
<text x="171.60" y="136.30" font-size="7.8" fill="#222" text-anchor="end" textLength="12.4" lengthAdjust="spacingAndGlyphs">-0.4</text>
<line x1="173.30" y1="139.00" x2="174.50" y2="139.00" stroke="#333" stroke-width="0.6"/>
<line x1="172.50" y1="144.50" x2="174.50" y2="144.50" stroke="#333" stroke-width="0.8"/>
<text x="171.60" y="147.30" font-size="7.8" fill="#222" text-anchor="end" textLength="12.4" lengthAdjust="spacingAndGlyphs">-0.5</text>
<line x1="174.50" y1="147.00" x2="174.50" y2="145.00" stroke="#333" stroke-width="0.8"/>
<text x="174.50" y="153.00" font-size="7" fill="#222" text-anchor="middle">1.1</text>
<line x1="191.90" y1="145.00" x2="191.90" y2="146.20" stroke="#333" stroke-width="0.6"/>
<line x1="209.25" y1="147.00" x2="209.25" y2="145.00" stroke="#333" stroke-width="0.8"/>
<text x="209.25" y="153.00" font-size="7" fill="#222" text-anchor="middle">1.2</text>
<line x1="226.65" y1="145.00" x2="226.65" y2="146.20" stroke="#333" stroke-width="0.6"/>
<line x1="244.00" y1="147.00" x2="244.00" y2="145.00" stroke="#333" stroke-width="0.8"/>
<text x="244.00" y="153.00" font-size="7" fill="#222" text-anchor="middle">1.3</text>
<line x1="261.40" y1="145.00" x2="261.40" y2="146.20" stroke="#333" stroke-width="0.6"/>
<line x1="278.75" y1="147.00" x2="278.75" y2="145.00" stroke="#333" stroke-width="0.8"/>
<text x="278.75" y="153.00" font-size="7" fill="#222" text-anchor="middle">1.4</text>
<line x1="296.15" y1="145.00" x2="296.15" y2="146.20" stroke="#333" stroke-width="0.6"/>
<line x1="313.50" y1="147.00" x2="313.50" y2="145.00" stroke="#333" stroke-width="0.8"/>
<text x="313.50" y="153.00" font-size="7" fill="#222" text-anchor="middle">1.5</text>
<text x="244.30" y="163.60" font-size="10" fill="#222" text-anchor="middle" textLength="72" lengthAdjust="spacingAndGlyphs">Frequency(THz)</text>
<text x="156.00" y="91.50" font-size="10" fill="#222" text-anchor="middle" textLength="29" lengthAdjust="spacingAndGlyphs" transform="rotate(-90 156.00 91.50)">CPCD</text>
<line x1="268.00" y1="43.00" x2="280.20" y2="43.00" stroke="#9a2ee6" stroke-width="1.3"/>
<text x="280.60" y="46.00" font-size="9.2" fill="#222" text-anchor="start" textLength="4.3" lengthAdjust="spacingAndGlyphs">ϕ</text>
<text x="287.60" y="46.00" font-size="8.5" fill="#222" text-anchor="start" textLength="4.2" lengthAdjust="spacingAndGlyphs">=</text>
<text x="295.30" y="46.00" font-size="8.5" fill="#222" text-anchor="start" textLength="4.1" lengthAdjust="spacingAndGlyphs">0</text>
<text x="299.70" y="42.40" font-size="4.6" fill="#222" text-anchor="start">0</text>
<line x1="268.00" y1="54.80" x2="280.20" y2="54.80" stroke="#39e039" stroke-width="1.3"/>
<text x="280.60" y="57.80" font-size="9.2" fill="#222" text-anchor="start" textLength="4.3" lengthAdjust="spacingAndGlyphs">ϕ</text>
<text x="287.60" y="57.80" font-size="8.5" fill="#222" text-anchor="start" textLength="4.2" lengthAdjust="spacingAndGlyphs">=</text>
<text x="295.30" y="57.80" font-size="8.5" fill="#222" text-anchor="start" textLength="8.4" lengthAdjust="spacingAndGlyphs">10</text>
<text x="304.00" y="54.20" font-size="4.6" fill="#222" text-anchor="start">0</text>
<line x1="268.00" y1="66.60" x2="280.20" y2="66.60" stroke="#ee2a2a" stroke-width="1.3"/>
<text x="280.60" y="69.60" font-size="9.2" fill="#222" text-anchor="start" textLength="4.3" lengthAdjust="spacingAndGlyphs">ϕ</text>
<text x="287.60" y="69.60" font-size="8.5" fill="#222" text-anchor="start" textLength="4.2" lengthAdjust="spacingAndGlyphs">=</text>
<text x="295.30" y="69.60" font-size="8.5" fill="#222" text-anchor="start" textLength="8.4" lengthAdjust="spacingAndGlyphs">15</text>
<text x="304.00" y="66.00" font-size="4.6" fill="#222" text-anchor="start">0</text>
<line x1="268.00" y1="78.40" x2="280.20" y2="78.40" stroke="#2424d8" stroke-width="1.3"/>
<text x="280.60" y="81.40" font-size="9.2" fill="#222" text-anchor="start" textLength="4.3" lengthAdjust="spacingAndGlyphs">ϕ</text>
<text x="287.60" y="81.40" font-size="8.5" fill="#222" text-anchor="start" textLength="4.2" lengthAdjust="spacingAndGlyphs">=</text>
<text x="295.30" y="81.40" font-size="8.5" fill="#222" text-anchor="start" textLength="8.4" lengthAdjust="spacingAndGlyphs">20</text>
<text x="304.00" y="77.80" font-size="4.6" fill="#222" text-anchor="start">0</text>
<line x1="268.00" y1="109.10" x2="280.40" y2="109.10" stroke="#39e039" stroke-width="1.1" stroke-dasharray="4.8,4.3"/>
<text x="280.80" y="112.10" font-size="9.2" fill="#222" text-anchor="start" textLength="4.6" lengthAdjust="spacingAndGlyphs">ϕ</text>
<text x="287.90" y="112.10" font-size="8.5" fill="#222" text-anchor="start" textLength="4.4" lengthAdjust="spacingAndGlyphs">=</text>
<text x="295.80" y="112.10" font-size="8.5" fill="#222" text-anchor="start" textLength="10.7" lengthAdjust="spacingAndGlyphs">-10</text>
<text x="306.90" y="108.50" font-size="4.6" fill="#222" text-anchor="start">0</text>
<line x1="268.00" y1="121.10" x2="280.40" y2="121.10" stroke="#ee2a2a" stroke-width="1.1" stroke-dasharray="4.8,4.3"/>
<text x="280.80" y="124.10" font-size="9.2" fill="#222" text-anchor="start" textLength="4.6" lengthAdjust="spacingAndGlyphs">ϕ</text>
<text x="287.90" y="124.10" font-size="8.5" fill="#222" text-anchor="start" textLength="4.4" lengthAdjust="spacingAndGlyphs">=</text>
<text x="295.80" y="124.10" font-size="8.5" fill="#222" text-anchor="start" textLength="10.7" lengthAdjust="spacingAndGlyphs">-15</text>
<text x="306.90" y="120.50" font-size="4.6" fill="#222" text-anchor="start">0</text>
<line x1="268.00" y1="132.60" x2="280.40" y2="132.60" stroke="#2424d8" stroke-width="1.1" stroke-dasharray="4.8,4.3"/>
<text x="280.80" y="135.60" font-size="9.2" fill="#222" text-anchor="start" textLength="4.6" lengthAdjust="spacingAndGlyphs">ϕ</text>
<text x="287.90" y="135.60" font-size="8.5" fill="#222" text-anchor="start" textLength="4.4" lengthAdjust="spacingAndGlyphs">=</text>
<text x="295.80" y="135.60" font-size="8.5" fill="#222" text-anchor="start" textLength="10.7" lengthAdjust="spacingAndGlyphs">-20</text>
<text x="306.90" y="132.00" font-size="4.6" fill="#222" text-anchor="start">0</text>
<defs>
<linearGradient id="plane" x1="0" y1="0" x2="1" y2="0">
 <stop offset="0" stop-color="#f1f1f1"/>
 <stop offset="1" stop-color="#e6e6e8"/>
</linearGradient>
<linearGradient id="ybeam" x1="0" y1="0" x2="1" y2="0">
 <stop offset="0" stop-color="#fffbd0" stop-opacity="0.3"/>
 <stop offset="0.3" stop-color="#fff59a"/>
 <stop offset="0.55" stop-color="#fff270"/>
 <stop offset="0.8" stop-color="#fff7a8"/>
 <stop offset="1" stop-color="#fffbe0" stop-opacity="0.3"/>
</linearGradient>
<linearGradient id="slabTop" x1="0" y1="0" x2="1" y2="1">
 <stop offset="0" stop-color="#e4e7eb"/>
 <stop offset="1" stop-color="#d9dde3"/>
</linearGradient>
</defs>
<polygon points="373.40,46.00 403.20,50.00 436.00,46.00 437.50,104.00 375.00,114.00" fill="url(#plane)"/>
<polygon points="358.00,112.80 432.00,101.50 457.70,133.50 396.60,141.30" fill="url(#slabTop)"/>
<polygon points="358.00,112.80 396.60,141.30 396.60,149.50 358.00,124.30" fill="#cdd2d9"/>
<polygon points="396.60,141.30 457.70,133.50 457.70,140.00 396.60,149.50" fill="#dde1e6"/>
<polygon points="375.00,100.00 441.00,95.00 441.00,108.00 375.00,116.00" fill="#ededee" opacity="0.6"/>
<polygon points="381.00,117.30 405.00,113.50 436.00,125.50 404.70,133.00" fill="#f2e46a" opacity="0.85"/>
<defs><filter id="blb" x="-50%" y="-20%" width="200%" height="140%"><feGaussianBlur stdDeviation="1.6"/></filter><clipPath id="bclip"><rect x="360" y="46" width="80" height="90"/></clipPath></defs>
<g clip-path="url(#bclip)"><g filter="url(#blb)">
<polygon points="372.50,44.00 400.00,44.00 419.00,122.00 388.00,124.00" fill="url(#ybeam)"/>
</g></g>
<line x1="386.00" y1="46.00" x2="410.70" y2="122.00" stroke="#b4a437" stroke-width="0.45"/>
<polygon points="418.40,124.60 426.60,122.80 434.90,126.50 424.80,128.30" fill="none" stroke="#8a7a30" stroke-width="0.5"/>
<line x1="408.20" y1="50.00" x2="408.20" y2="122.00" stroke="#999" stroke-width="0.6" stroke-dasharray="1.5,1.5"/>
<line x1="436.00" y1="46.50" x2="418.30" y2="122.70" stroke="#999" stroke-width="0.5" stroke-dasharray="1.5,1.5"/>
<line x1="434.90" y1="126.50" x2="511.00" y2="103.80" stroke="#999" stroke-width="0.5" stroke-dasharray="1.5,1.5"/>
<line x1="426.60" y1="122.80" x2="441.30" y2="41.50" stroke="#aaa" stroke-width="0.5" stroke-dasharray="1.5,1.5"/>
<path d="M400.5,86 Q404,82.5 408.2,83" fill="none" stroke="#555" stroke-width="0.5"/>
<text x="409.60" y="81.60" font-size="7.8" fill="#333" text-anchor="start">θ</text>
<path d="M366.00,46.00 L366.37,46.45 L366.88,47.10 L367.49,47.86 L368.15,48.64 L368.84,49.39 L369.50,50.00 L370.14,50.49 L370.77,50.93 L371.42,51.32 L372.12,51.67 L372.87,51.99 L373.70,52.30 L374.62,52.59 L375.60,52.85 L376.65,53.09 L377.74,53.29 L378.86,53.46 L380.00,53.60 L381.17,53.70 L382.38,53.77 L383.62,53.80 L384.88,53.80 L386.14,53.77 L387.40,53.70 L388.66,53.59 L389.92,53.45 L391.19,53.27 L392.47,53.06 L393.74,52.84 L395.00,52.60 L396.34,52.32 L397.79,51.99 L399.23,51.63 L400.56,51.29 L401.69,51.00 L402.50,50.80" fill="none" stroke="#1a1a1a" stroke-width="1.2" stroke-linejoin="round" stroke-linecap="butt"/>
<path d="M402.50,51.00 L402.12,51.26 L401.59,51.61 L400.96,52.03 L400.29,52.50 L399.62,53.00 L399.00,53.50 L398.46,54.01 L397.96,54.56 L397.46,55.12 L396.93,55.72 L396.32,56.35 L395.60,57.00 L394.72,57.69 L393.72,58.43 L392.64,59.19 L391.54,59.96 L390.47,60.74 L389.50,61.50 L388.61,62.25 L387.76,63.00 L386.95,63.75 L386.17,64.50 L385.42,65.25 L384.70,66.00 L384.00,66.74 L383.31,67.48 L382.66,68.21 L382.05,68.96 L381.49,69.72 L381.00,70.50 L380.57,71.32 L380.21,72.16 L379.89,73.03 L379.63,73.89 L379.40,74.75 L379.20,75.60 L379.04,76.43 L378.91,77.26 L378.83,78.07 L378.79,78.89 L378.78,79.70 L378.80,80.50 L378.85,81.31 L378.91,82.11 L379.02,82.92 L379.17,83.71 L379.40,84.47 L379.70,85.20 L380.10,85.91 L380.58,86.61 L381.13,87.29 L381.73,87.92 L382.36,88.50 L383.00,89.00 L383.66,89.42 L384.34,89.77 L385.06,90.06 L385.80,90.30 L386.58,90.51 L387.40,90.70 L388.27,90.86 L389.19,90.99 L390.14,91.09 L391.10,91.15 L392.06,91.19 L393.00,91.20 L393.90,91.19 L394.77,91.15 L395.64,91.09 L396.52,90.99 L397.43,90.86 L398.40,90.70 L399.43,90.49 L400.50,90.25 L401.60,89.97 L402.73,89.66 L403.86,89.34 L405.00,89.00 L406.22,88.61 L407.56,88.16 L408.91,87.69 L410.17,87.25 L411.23,86.87 L412.00,86.60" fill="none" stroke="#1a1a1a" stroke-width="1.2" stroke-linejoin="round" stroke-linecap="butt"/>
<path d="M411.50,87.00 L410.78,87.42 L409.77,88.03 L408.58,88.74 L407.34,89.47 L406.17,90.15 L405.20,90.70 L404.43,91.10 L403.75,91.42 L403.15,91.69 L402.59,91.93 L402.05,92.19 L401.50,92.50 L400.96,92.84 L400.45,93.18 L399.96,93.53 L399.47,93.91 L398.96,94.33 L398.40,94.80 L397.79,95.33 L397.13,95.90 L396.44,96.51 L395.76,97.16 L395.11,97.82 L394.50,98.50 L393.94,99.19 L393.40,99.90 L392.89,100.64 L392.41,101.40 L391.94,102.18 L391.50,103.00 L391.07,103.86 L390.64,104.76 L390.24,105.69 L389.88,106.63 L389.56,107.57 L389.30,108.50 L389.10,109.43 L388.95,110.39 L388.85,111.34 L388.79,112.28 L388.78,113.17 L388.80,114.00 L388.87,114.77 L389.00,115.49 L389.16,116.17 L389.36,116.81 L389.58,117.42 L389.80,118.00 L390.02,118.55 L390.23,119.05 L390.46,119.53 L390.74,119.97 L391.08,120.39 L391.50,120.80 L392.02,121.19 L392.61,121.57 L393.26,121.92 L393.97,122.25 L394.72,122.55 L395.50,122.80 L396.31,123.01 L397.15,123.19 L398.03,123.34 L398.96,123.45 L399.95,123.54 L401.00,123.60 L402.22,123.62 L403.63,123.60 L405.09,123.55 L406.48,123.49 L407.66,123.43 L408.50,123.40" fill="none" stroke="#1a1a1a" stroke-width="1.2" stroke-linejoin="round" stroke-linecap="butt"/>
<path d="M408,121.2 L413.3,123.3 L408.2,125.4 Z" fill="#1a1a1a"/>
<line x1="373.40" y1="128.80" x2="373.40" y2="139.00" stroke="#222" stroke-width="0.7"/>
<path d="M372.4,137.5 L373.4,140 L374.4,137.5 Z" fill="#222"/>
<line x1="373.40" y1="128.80" x2="382.00" y2="126.60" stroke="#222" stroke-width="0.7"/>
<path d="M380.5,125.6 L383,126.4 L381,127.8 Z" fill="#222"/>
<line x1="373.40" y1="128.80" x2="380.00" y2="134.50" stroke="#222" stroke-width="0.7"/>
<path d="M378.6,135 L380.8,135.3 L380,133.2 Z" fill="#222"/>
<text x="383.50" y="128.50" font-size="5.5" fill="#333" text-anchor="start" font-style="italic">x</text>
<text x="381.50" y="138.00" font-size="5.5" fill="#333" text-anchor="start" font-style="italic">y</text>
<text x="371.80" y="145.00" font-size="5.5" fill="#333" text-anchor="start" font-style="italic">z</text>
<text x="343.00" y="71.40" font-size="6.2" fill="#2a2a2a" text-anchor="start" textLength="26" lengthAdjust="spacingAndGlyphs">(x,z) plane</text>
<line x1="368.50" y1="72.50" x2="373.60" y2="78.50" stroke="#666" stroke-width="0.4"/>
<text x="343.00" y="102.20" font-size="7.2" fill="#111" text-anchor="start" textLength="23.2" lengthAdjust="spacingAndGlyphs">Cladding</text>
<line x1="359.00" y1="103.50" x2="363.50" y2="110.00" stroke="#666" stroke-width="0.4"/>
<text x="343.00" y="139.20" font-size="6.2" fill="#2a2a2a" text-anchor="start" textLength="23.5" lengthAdjust="spacingAndGlyphs">Substrate</text>
<line x1="361.00" y1="133.00" x2="365.00" y2="128.00" stroke="#888" stroke-width="0.4"/>
<rect x="441.3" y="41.5" width="69.7" height="62.3" fill="#f7f7f7" stroke="#aaa" stroke-width="0.5"/>
<defs><clipPath id="insetClip"><rect x="441.6" y="41.8" width="69.1" height="61.7"/></clipPath></defs>
<g clip-path="url(#insetClip)">
<path d="M437.59,41.41 h3.46 v1.99 h-1.11 v-0.89 h-1.24 v0.89 h-1.11 Z" fill="#efc838"/>
<path d="M437.59,43.39 h1.11 v0.66 h-1.11 Z M439.94,43.39 h1.11 v0.66 h-1.11 Z M438.70,42.50 h1.24 v0.66 h-1.24 Z" fill="#b8861a"/>
<path d="M444.95,41.41 h3.46 v1.99 h-1.11 v-0.89 h-1.24 v0.89 h-1.11 Z" fill="#efc838"/>
<path d="M444.95,43.39 h1.11 v0.66 h-1.11 Z M447.30,43.39 h1.11 v0.66 h-1.11 Z M446.05,42.50 h1.24 v0.66 h-1.24 Z" fill="#b8861a"/>
<path d="M452.30,41.41 h3.46 v1.99 h-1.11 v-0.89 h-1.24 v0.89 h-1.11 Z" fill="#efc838"/>
<path d="M452.30,43.39 h1.11 v0.66 h-1.11 Z M454.65,43.39 h1.11 v0.66 h-1.11 Z M453.41,42.50 h1.24 v0.66 h-1.24 Z" fill="#b8861a"/>
<path d="M459.66,41.41 h3.46 v1.99 h-1.11 v-0.89 h-1.24 v0.89 h-1.11 Z" fill="#efc838"/>
<path d="M459.66,43.39 h1.11 v0.66 h-1.11 Z M462.01,43.39 h1.11 v0.66 h-1.11 Z M460.77,42.50 h1.24 v0.66 h-1.24 Z" fill="#b8861a"/>
<path d="M467.02,41.41 h3.46 v1.99 h-1.11 v-0.89 h-1.24 v0.89 h-1.11 Z" fill="#efc838"/>
<path d="M467.02,43.39 h1.11 v0.66 h-1.11 Z M469.37,43.39 h1.11 v0.66 h-1.11 Z M468.12,42.50 h1.24 v0.66 h-1.24 Z" fill="#b8861a"/>
<path d="M474.37,41.41 h3.46 v1.99 h-1.11 v-0.89 h-1.24 v0.89 h-1.11 Z" fill="#efc838"/>
<path d="M474.37,43.39 h1.11 v0.66 h-1.11 Z M476.72,43.39 h1.11 v0.66 h-1.11 Z M475.48,42.50 h1.24 v0.66 h-1.24 Z" fill="#b8861a"/>
<path d="M481.73,41.41 h3.46 v1.99 h-1.11 v-0.89 h-1.24 v0.89 h-1.11 Z" fill="#efc838"/>
<path d="M481.73,43.39 h1.11 v0.66 h-1.11 Z M484.08,43.39 h1.11 v0.66 h-1.11 Z M482.83,42.50 h1.24 v0.66 h-1.24 Z" fill="#b8861a"/>
<path d="M489.08,41.41 h3.46 v1.99 h-1.11 v-0.89 h-1.24 v0.89 h-1.11 Z" fill="#efc838"/>
<path d="M489.08,43.39 h1.11 v0.66 h-1.11 Z M491.43,43.39 h1.11 v0.66 h-1.11 Z M490.19,42.50 h1.24 v0.66 h-1.24 Z" fill="#b8861a"/>
<path d="M496.44,41.41 h3.46 v1.99 h-1.11 v-0.89 h-1.24 v0.89 h-1.11 Z" fill="#efc838"/>
<path d="M496.44,43.39 h1.11 v0.66 h-1.11 Z M498.79,43.39 h1.11 v0.66 h-1.11 Z M497.55,42.50 h1.24 v0.66 h-1.24 Z" fill="#b8861a"/>
<path d="M503.80,41.41 h3.46 v1.99 h-1.11 v-0.89 h-1.24 v0.89 h-1.11 Z" fill="#efc838"/>
<path d="M503.80,43.39 h1.11 v0.66 h-1.11 Z M506.15,43.39 h1.11 v0.66 h-1.11 Z M504.90,42.50 h1.24 v0.66 h-1.24 Z" fill="#b8861a"/>
<path d="M511.15,41.41 h3.46 v1.99 h-1.11 v-0.89 h-1.24 v0.89 h-1.11 Z" fill="#efc838"/>
<path d="M511.15,43.39 h1.11 v0.66 h-1.11 Z M513.50,43.39 h1.11 v0.66 h-1.11 Z M512.26,42.50 h1.24 v0.66 h-1.24 Z" fill="#b8861a"/>
<path d="M442.69,43.93 h3.71 v2.13 h-1.19 v-0.96 h-1.33 v0.96 h-1.19 Z" fill="#efc838"/>
<path d="M442.69,46.07 h1.19 v0.71 h-1.19 Z M445.21,46.07 h1.19 v0.71 h-1.19 Z M443.88,45.11 h1.33 v0.71 h-1.33 Z" fill="#b8861a"/>
<path d="M450.58,43.93 h3.71 v2.13 h-1.19 v-0.96 h-1.33 v0.96 h-1.19 Z" fill="#efc838"/>
<path d="M450.58,46.07 h1.19 v0.71 h-1.19 Z M453.10,46.07 h1.19 v0.71 h-1.19 Z M451.77,45.11 h1.33 v0.71 h-1.33 Z" fill="#b8861a"/>
<path d="M458.47,43.93 h3.71 v2.13 h-1.19 v-0.96 h-1.33 v0.96 h-1.19 Z" fill="#efc838"/>
<path d="M458.47,46.07 h1.19 v0.71 h-1.19 Z M460.99,46.07 h1.19 v0.71 h-1.19 Z M459.65,45.11 h1.33 v0.71 h-1.33 Z" fill="#b8861a"/>
<path d="M466.36,43.93 h3.71 v2.13 h-1.19 v-0.96 h-1.33 v0.96 h-1.19 Z" fill="#efc838"/>
<path d="M466.36,46.07 h1.19 v0.71 h-1.19 Z M468.88,46.07 h1.19 v0.71 h-1.19 Z M467.54,45.11 h1.33 v0.71 h-1.33 Z" fill="#b8861a"/>
<path d="M474.25,43.93 h3.71 v2.13 h-1.19 v-0.96 h-1.33 v0.96 h-1.19 Z" fill="#efc838"/>
<path d="M474.25,46.07 h1.19 v0.71 h-1.19 Z M476.77,46.07 h1.19 v0.71 h-1.19 Z M475.43,45.11 h1.33 v0.71 h-1.33 Z" fill="#b8861a"/>
<path d="M482.14,43.93 h3.71 v2.13 h-1.19 v-0.96 h-1.33 v0.96 h-1.19 Z" fill="#efc838"/>
<path d="M482.14,46.07 h1.19 v0.71 h-1.19 Z M484.66,46.07 h1.19 v0.71 h-1.19 Z M483.32,45.11 h1.33 v0.71 h-1.33 Z" fill="#b8861a"/>
<path d="M490.02,43.93 h3.71 v2.13 h-1.19 v-0.96 h-1.33 v0.96 h-1.19 Z" fill="#efc838"/>
<path d="M490.02,46.07 h1.19 v0.71 h-1.19 Z M492.55,46.07 h1.19 v0.71 h-1.19 Z M491.21,45.11 h1.33 v0.71 h-1.33 Z" fill="#b8861a"/>
<path d="M497.91,43.93 h3.71 v2.13 h-1.19 v-0.96 h-1.33 v0.96 h-1.19 Z" fill="#efc838"/>
<path d="M497.91,46.07 h1.19 v0.71 h-1.19 Z M500.43,46.07 h1.19 v0.71 h-1.19 Z M499.10,45.11 h1.33 v0.71 h-1.33 Z" fill="#b8861a"/>
<path d="M505.80,43.93 h3.71 v2.13 h-1.19 v-0.96 h-1.33 v0.96 h-1.19 Z" fill="#efc838"/>
<path d="M505.80,46.07 h1.19 v0.71 h-1.19 Z M508.32,46.07 h1.19 v0.71 h-1.19 Z M506.99,45.11 h1.33 v0.71 h-1.33 Z" fill="#b8861a"/>
<path d="M439.74,47.24 h4.04 v2.32 h-1.29 v-1.04 h-1.45 v1.04 h-1.29 Z" fill="#efc838"/>
<path d="M439.74,49.56 h1.29 v0.77 h-1.29 Z M442.48,49.56 h1.29 v0.77 h-1.29 Z M441.03,48.52 h1.45 v0.77 h-1.45 Z" fill="#b8861a"/>
<path d="M448.32,47.24 h4.04 v2.32 h-1.29 v-1.04 h-1.45 v1.04 h-1.29 Z" fill="#efc838"/>
<path d="M448.32,49.56 h1.29 v0.77 h-1.29 Z M451.07,49.56 h1.29 v0.77 h-1.29 Z M449.62,48.52 h1.45 v0.77 h-1.45 Z" fill="#b8861a"/>
<path d="M456.91,47.24 h4.04 v2.32 h-1.29 v-1.04 h-1.45 v1.04 h-1.29 Z" fill="#efc838"/>
<path d="M456.91,49.56 h1.29 v0.77 h-1.29 Z M459.65,49.56 h1.29 v0.77 h-1.29 Z M458.20,48.52 h1.45 v0.77 h-1.45 Z" fill="#b8861a"/>
<path d="M465.50,47.24 h4.04 v2.32 h-1.29 v-1.04 h-1.45 v1.04 h-1.29 Z" fill="#efc838"/>
<path d="M465.50,49.56 h1.29 v0.77 h-1.29 Z M468.24,49.56 h1.29 v0.77 h-1.29 Z M466.79,48.52 h1.45 v0.77 h-1.45 Z" fill="#b8861a"/>
<path d="M474.08,47.24 h4.04 v2.32 h-1.29 v-1.04 h-1.45 v1.04 h-1.29 Z" fill="#efc838"/>
<path d="M474.08,49.56 h1.29 v0.77 h-1.29 Z M476.83,49.56 h1.29 v0.77 h-1.29 Z M475.37,48.52 h1.45 v0.77 h-1.45 Z" fill="#b8861a"/>
<path d="M482.67,47.24 h4.04 v2.32 h-1.29 v-1.04 h-1.45 v1.04 h-1.29 Z" fill="#efc838"/>
<path d="M482.67,49.56 h1.29 v0.77 h-1.29 Z M485.41,49.56 h1.29 v0.77 h-1.29 Z M483.96,48.52 h1.45 v0.77 h-1.45 Z" fill="#b8861a"/>
<path d="M491.25,47.24 h4.04 v2.32 h-1.29 v-1.04 h-1.45 v1.04 h-1.29 Z" fill="#efc838"/>
<path d="M491.25,49.56 h1.29 v0.77 h-1.29 Z M494.00,49.56 h1.29 v0.77 h-1.29 Z M492.55,48.52 h1.45 v0.77 h-1.45 Z" fill="#b8861a"/>
<path d="M499.84,47.24 h4.04 v2.32 h-1.29 v-1.04 h-1.45 v1.04 h-1.29 Z" fill="#efc838"/>
<path d="M499.84,49.56 h1.29 v0.77 h-1.29 Z M502.58,49.56 h1.29 v0.77 h-1.29 Z M501.13,48.52 h1.45 v0.77 h-1.45 Z" fill="#b8861a"/>
<path d="M508.43,47.24 h4.04 v2.32 h-1.29 v-1.04 h-1.45 v1.04 h-1.29 Z" fill="#efc838"/>
<path d="M508.43,49.56 h1.29 v0.77 h-1.29 Z M511.17,49.56 h1.29 v0.77 h-1.29 Z M509.72,48.52 h1.45 v0.77 h-1.45 Z" fill="#b8861a"/>
<path d="M436.61,50.74 h4.38 v2.52 h-1.40 v-1.13 h-1.58 v1.13 h-1.40 Z" fill="#efc838"/>
<path d="M436.61,53.26 h1.40 v0.84 h-1.40 Z M439.59,53.26 h1.40 v0.84 h-1.40 Z M438.02,52.13 h1.58 v0.84 h-1.58 Z" fill="#b8861a"/>
<path d="M445.94,50.74 h4.38 v2.52 h-1.40 v-1.13 h-1.58 v1.13 h-1.40 Z" fill="#efc838"/>
<path d="M445.94,53.26 h1.40 v0.84 h-1.40 Z M448.92,53.26 h1.40 v0.84 h-1.40 Z M447.34,52.13 h1.58 v0.84 h-1.58 Z" fill="#b8861a"/>
<path d="M455.26,50.74 h4.38 v2.52 h-1.40 v-1.13 h-1.58 v1.13 h-1.40 Z" fill="#efc838"/>
<path d="M455.26,53.26 h1.40 v0.84 h-1.40 Z M458.24,53.26 h1.40 v0.84 h-1.40 Z M456.66,52.13 h1.58 v0.84 h-1.58 Z" fill="#b8861a"/>
<path d="M464.58,50.74 h4.38 v2.52 h-1.40 v-1.13 h-1.58 v1.13 h-1.40 Z" fill="#efc838"/>
<path d="M464.58,53.26 h1.40 v0.84 h-1.40 Z M467.56,53.26 h1.40 v0.84 h-1.40 Z M465.99,52.13 h1.58 v0.84 h-1.58 Z" fill="#b8861a"/>
<path d="M473.91,50.74 h4.38 v2.52 h-1.40 v-1.13 h-1.58 v1.13 h-1.40 Z" fill="#efc838"/>
<path d="M473.91,53.26 h1.40 v0.84 h-1.40 Z M476.89,53.26 h1.40 v0.84 h-1.40 Z M475.31,52.13 h1.58 v0.84 h-1.58 Z" fill="#b8861a"/>
<path d="M483.23,50.74 h4.38 v2.52 h-1.40 v-1.13 h-1.58 v1.13 h-1.40 Z" fill="#efc838"/>
<path d="M483.23,53.26 h1.40 v0.84 h-1.40 Z M486.21,53.26 h1.40 v0.84 h-1.40 Z M484.64,52.13 h1.58 v0.84 h-1.58 Z" fill="#b8861a"/>
<path d="M492.56,50.74 h4.38 v2.52 h-1.40 v-1.13 h-1.58 v1.13 h-1.40 Z" fill="#efc838"/>
<path d="M492.56,53.26 h1.40 v0.84 h-1.40 Z M495.54,53.26 h1.40 v0.84 h-1.40 Z M493.96,52.13 h1.58 v0.84 h-1.58 Z" fill="#b8861a"/>
<path d="M501.88,50.74 h4.38 v2.52 h-1.40 v-1.13 h-1.58 v1.13 h-1.40 Z" fill="#efc838"/>
<path d="M501.88,53.26 h1.40 v0.84 h-1.40 Z M504.86,53.26 h1.40 v0.84 h-1.40 Z M503.28,52.13 h1.58 v0.84 h-1.58 Z" fill="#b8861a"/>
<path d="M511.20,50.74 h4.38 v2.52 h-1.40 v-1.13 h-1.58 v1.13 h-1.40 Z" fill="#efc838"/>
<path d="M511.20,53.26 h1.40 v0.84 h-1.40 Z M514.18,53.26 h1.40 v0.84 h-1.40 Z M512.61,52.13 h1.58 v0.84 h-1.58 Z" fill="#b8861a"/>
<path d="M443.28,54.63 h4.77 v2.74 h-1.53 v-1.23 h-1.72 v1.23 h-1.53 Z" fill="#efc838"/>
<path d="M443.28,57.37 h1.53 v0.91 h-1.53 Z M446.53,57.37 h1.53 v0.91 h-1.53 Z M444.81,56.14 h1.72 v0.91 h-1.72 Z" fill="#b8861a"/>
<path d="M453.43,54.63 h4.77 v2.74 h-1.53 v-1.23 h-1.72 v1.23 h-1.53 Z" fill="#efc838"/>
<path d="M453.43,57.37 h1.53 v0.91 h-1.53 Z M456.67,57.37 h1.53 v0.91 h-1.53 Z M454.95,56.14 h1.72 v0.91 h-1.72 Z" fill="#b8861a"/>
<path d="M463.57,54.63 h4.77 v2.74 h-1.53 v-1.23 h-1.72 v1.23 h-1.53 Z" fill="#efc838"/>
<path d="M463.57,57.37 h1.53 v0.91 h-1.53 Z M466.81,57.37 h1.53 v0.91 h-1.53 Z M465.10,56.14 h1.72 v0.91 h-1.72 Z" fill="#b8861a"/>
<path d="M473.72,54.63 h4.77 v2.74 h-1.53 v-1.23 h-1.72 v1.23 h-1.53 Z" fill="#efc838"/>
<path d="M473.72,57.37 h1.53 v0.91 h-1.53 Z M476.96,57.37 h1.53 v0.91 h-1.53 Z M475.24,56.14 h1.72 v0.91 h-1.72 Z" fill="#b8861a"/>
<path d="M483.86,54.63 h4.77 v2.74 h-1.53 v-1.23 h-1.72 v1.23 h-1.53 Z" fill="#efc838"/>
<path d="M483.86,57.37 h1.53 v0.91 h-1.53 Z M487.10,57.37 h1.53 v0.91 h-1.53 Z M485.39,56.14 h1.72 v0.91 h-1.72 Z" fill="#b8861a"/>
<path d="M494.00,54.63 h4.77 v2.74 h-1.53 v-1.23 h-1.72 v1.23 h-1.53 Z" fill="#efc838"/>
<path d="M494.00,57.37 h1.53 v0.91 h-1.53 Z M497.25,57.37 h1.53 v0.91 h-1.53 Z M495.53,56.14 h1.72 v0.91 h-1.72 Z" fill="#b8861a"/>
<path d="M504.15,54.63 h4.77 v2.74 h-1.53 v-1.23 h-1.72 v1.23 h-1.53 Z" fill="#efc838"/>
<path d="M504.15,57.37 h1.53 v0.91 h-1.53 Z M507.39,57.37 h1.53 v0.91 h-1.53 Z M505.67,56.14 h1.72 v0.91 h-1.72 Z" fill="#b8861a"/>
<path d="M440.17,59.20 h5.22 v3.00 h-1.67 v-1.35 h-1.88 v1.35 h-1.67 Z" fill="#efc838"/>
<path d="M440.17,62.20 h1.67 v1.00 h-1.67 Z M443.72,62.20 h1.67 v1.00 h-1.67 Z M441.84,60.85 h1.88 v1.00 h-1.88 Z" fill="#b8861a"/>
<path d="M451.27,59.20 h5.22 v3.00 h-1.67 v-1.35 h-1.88 v1.35 h-1.67 Z" fill="#efc838"/>
<path d="M451.27,62.20 h1.67 v1.00 h-1.67 Z M454.82,62.20 h1.67 v1.00 h-1.67 Z M452.95,60.85 h1.88 v1.00 h-1.88 Z" fill="#b8861a"/>
<path d="M462.38,59.20 h5.22 v3.00 h-1.67 v-1.35 h-1.88 v1.35 h-1.67 Z" fill="#efc838"/>
<path d="M462.38,62.20 h1.67 v1.00 h-1.67 Z M465.93,62.20 h1.67 v1.00 h-1.67 Z M464.05,60.85 h1.88 v1.00 h-1.88 Z" fill="#b8861a"/>
<path d="M473.49,59.20 h5.22 v3.00 h-1.67 v-1.35 h-1.88 v1.35 h-1.67 Z" fill="#efc838"/>
<path d="M473.49,62.20 h1.67 v1.00 h-1.67 Z M477.04,62.20 h1.67 v1.00 h-1.67 Z M475.16,60.85 h1.88 v1.00 h-1.88 Z" fill="#b8861a"/>
<path d="M484.60,59.20 h5.22 v3.00 h-1.67 v-1.35 h-1.88 v1.35 h-1.67 Z" fill="#efc838"/>
<path d="M484.60,62.20 h1.67 v1.00 h-1.67 Z M488.15,62.20 h1.67 v1.00 h-1.67 Z M486.27,60.85 h1.88 v1.00 h-1.88 Z" fill="#b8861a"/>
<path d="M495.70,59.20 h5.22 v3.00 h-1.67 v-1.35 h-1.88 v1.35 h-1.67 Z" fill="#efc838"/>
<path d="M495.70,62.20 h1.67 v1.00 h-1.67 Z M499.25,62.20 h1.67 v1.00 h-1.67 Z M497.38,60.85 h1.88 v1.00 h-1.88 Z" fill="#b8861a"/>
<path d="M506.81,59.20 h5.22 v3.00 h-1.67 v-1.35 h-1.88 v1.35 h-1.67 Z" fill="#efc838"/>
<path d="M506.81,62.20 h1.67 v1.00 h-1.67 Z M510.36,62.20 h1.67 v1.00 h-1.67 Z M508.48,60.85 h1.88 v1.00 h-1.88 Z" fill="#b8861a"/>
<path d="M436.59,64.45 h5.74 v3.30 h-1.84 v-1.48 h-2.07 v1.48 h-1.84 Z" fill="#efc838"/>
<path d="M436.59,67.75 h1.84 v1.10 h-1.84 Z M440.49,67.75 h1.84 v1.10 h-1.84 Z M438.42,66.26 h2.07 v1.10 h-2.07 Z" fill="#b8861a"/>
<path d="M448.80,64.45 h5.74 v3.30 h-1.84 v-1.48 h-2.07 v1.48 h-1.84 Z" fill="#efc838"/>
<path d="M448.80,67.75 h1.84 v1.10 h-1.84 Z M452.70,67.75 h1.84 v1.10 h-1.84 Z M450.64,66.26 h2.07 v1.10 h-2.07 Z" fill="#b8861a"/>
<path d="M461.02,64.45 h5.74 v3.30 h-1.84 v-1.48 h-2.07 v1.48 h-1.84 Z" fill="#efc838"/>
<path d="M461.02,67.75 h1.84 v1.10 h-1.84 Z M464.92,67.75 h1.84 v1.10 h-1.84 Z M462.85,66.26 h2.07 v1.10 h-2.07 Z" fill="#b8861a"/>
<path d="M473.23,64.45 h5.74 v3.30 h-1.84 v-1.48 h-2.07 v1.48 h-1.84 Z" fill="#efc838"/>
<path d="M473.23,67.75 h1.84 v1.10 h-1.84 Z M477.13,67.75 h1.84 v1.10 h-1.84 Z M475.07,66.26 h2.07 v1.10 h-2.07 Z" fill="#b8861a"/>
<path d="M485.44,64.45 h5.74 v3.30 h-1.84 v-1.48 h-2.07 v1.48 h-1.84 Z" fill="#efc838"/>
<path d="M485.44,67.75 h1.84 v1.10 h-1.84 Z M489.35,67.75 h1.84 v1.10 h-1.84 Z M487.28,66.26 h2.07 v1.10 h-2.07 Z" fill="#b8861a"/>
<path d="M497.66,64.45 h5.74 v3.30 h-1.84 v-1.48 h-2.07 v1.48 h-1.84 Z" fill="#efc838"/>
<path d="M497.66,67.75 h1.84 v1.10 h-1.84 Z M501.56,67.75 h1.84 v1.10 h-1.84 Z M499.50,66.26 h2.07 v1.10 h-2.07 Z" fill="#b8861a"/>
<path d="M509.87,64.45 h5.74 v3.30 h-1.84 v-1.48 h-2.07 v1.48 h-1.84 Z" fill="#efc838"/>
<path d="M509.87,67.75 h1.84 v1.10 h-1.84 Z M513.78,67.75 h1.84 v1.10 h-1.84 Z M511.71,66.26 h2.07 v1.10 h-2.07 Z" fill="#b8861a"/>
<path d="M446.05,70.28 h6.32 v3.63 h-2.02 v-1.63 h-2.27 v1.63 h-2.02 Z" fill="#efc838"/>
<path d="M446.05,73.92 h2.02 v1.21 h-2.02 Z M450.35,73.92 h2.02 v1.21 h-2.02 Z M448.07,72.28 h2.27 v1.21 h-2.27 Z" fill="#b8861a"/>
<path d="M459.50,70.28 h6.32 v3.63 h-2.02 v-1.63 h-2.27 v1.63 h-2.02 Z" fill="#efc838"/>
<path d="M459.50,73.92 h2.02 v1.21 h-2.02 Z M463.79,73.92 h2.02 v1.21 h-2.02 Z M461.52,72.28 h2.27 v1.21 h-2.27 Z" fill="#b8861a"/>
<path d="M472.94,70.28 h6.32 v3.63 h-2.02 v-1.63 h-2.27 v1.63 h-2.02 Z" fill="#efc838"/>
<path d="M472.94,73.92 h2.02 v1.21 h-2.02 Z M477.24,73.92 h2.02 v1.21 h-2.02 Z M474.96,72.28 h2.27 v1.21 h-2.27 Z" fill="#b8861a"/>
<path d="M486.39,70.28 h6.32 v3.63 h-2.02 v-1.63 h-2.27 v1.63 h-2.02 Z" fill="#efc838"/>
<path d="M486.39,73.92 h2.02 v1.21 h-2.02 Z M490.68,73.92 h2.02 v1.21 h-2.02 Z M488.41,72.28 h2.27 v1.21 h-2.27 Z" fill="#b8861a"/>
<path d="M499.83,70.28 h6.32 v3.63 h-2.02 v-1.63 h-2.27 v1.63 h-2.02 Z" fill="#efc838"/>
<path d="M499.83,73.92 h2.02 v1.21 h-2.02 Z M504.13,73.92 h2.02 v1.21 h-2.02 Z M501.85,72.28 h2.27 v1.21 h-2.27 Z" fill="#b8861a"/>
<path d="M442.84,77.09 h6.99 v4.02 h-2.24 v-1.81 h-2.52 v1.81 h-2.24 Z" fill="#efc838"/>
<path d="M442.84,81.11 h2.24 v1.34 h-2.24 Z M447.60,81.11 h2.24 v1.34 h-2.24 Z M445.08,79.30 h2.52 v1.34 h-2.52 Z" fill="#b8861a"/>
<path d="M457.72,77.09 h6.99 v4.02 h-2.24 v-1.81 h-2.52 v1.81 h-2.24 Z" fill="#efc838"/>
<path d="M457.72,81.11 h2.24 v1.34 h-2.24 Z M462.48,81.11 h2.24 v1.34 h-2.24 Z M459.96,79.30 h2.52 v1.34 h-2.52 Z" fill="#b8861a"/>
<path d="M472.60,77.09 h6.99 v4.02 h-2.24 v-1.81 h-2.52 v1.81 h-2.24 Z" fill="#efc838"/>
<path d="M472.60,81.11 h2.24 v1.34 h-2.24 Z M477.36,81.11 h2.24 v1.34 h-2.24 Z M474.84,79.30 h2.52 v1.34 h-2.52 Z" fill="#b8861a"/>
<path d="M487.48,77.09 h6.99 v4.02 h-2.24 v-1.81 h-2.52 v1.81 h-2.24 Z" fill="#efc838"/>
<path d="M487.48,81.11 h2.24 v1.34 h-2.24 Z M492.24,81.11 h2.24 v1.34 h-2.24 Z M489.72,79.30 h2.52 v1.34 h-2.52 Z" fill="#b8861a"/>
<path d="M502.36,77.09 h6.99 v4.02 h-2.24 v-1.81 h-2.52 v1.81 h-2.24 Z" fill="#efc838"/>
<path d="M502.36,81.11 h2.24 v1.34 h-2.24 Z M507.12,81.11 h2.24 v1.34 h-2.24 Z M504.60,79.30 h2.52 v1.34 h-2.52 Z" fill="#b8861a"/>
<path d="M438.72,85.84 h7.86 v4.52 h-2.52 v-2.03 h-2.83 v2.03 h-2.52 Z" fill="#efc838"/>
<path d="M438.72,90.36 h2.52 v1.51 h-2.52 Z M444.07,90.36 h2.52 v1.51 h-2.52 Z M441.24,88.33 h2.83 v1.51 h-2.83 Z" fill="#b8861a"/>
<path d="M455.45,85.84 h7.86 v4.52 h-2.52 v-2.03 h-2.83 v2.03 h-2.52 Z" fill="#efc838"/>
<path d="M455.45,90.36 h2.52 v1.51 h-2.52 Z M460.79,90.36 h2.52 v1.51 h-2.52 Z M457.96,88.33 h2.83 v1.51 h-2.83 Z" fill="#b8861a"/>
<path d="M472.17,85.84 h7.86 v4.52 h-2.52 v-2.03 h-2.83 v2.03 h-2.52 Z" fill="#efc838"/>
<path d="M472.17,90.36 h2.52 v1.51 h-2.52 Z M477.51,90.36 h2.52 v1.51 h-2.52 Z M474.69,88.33 h2.83 v1.51 h-2.83 Z" fill="#b8861a"/>
<path d="M488.89,85.84 h7.86 v4.52 h-2.52 v-2.03 h-2.83 v2.03 h-2.52 Z" fill="#efc838"/>
<path d="M488.89,90.36 h2.52 v1.51 h-2.52 Z M494.24,90.36 h2.52 v1.51 h-2.52 Z M491.41,88.33 h2.83 v1.51 h-2.83 Z" fill="#b8861a"/>
<path d="M505.62,85.84 h7.86 v4.52 h-2.52 v-2.03 h-2.83 v2.03 h-2.52 Z" fill="#efc838"/>
<path d="M505.62,90.36 h2.52 v1.51 h-2.52 Z M510.96,90.36 h2.52 v1.51 h-2.52 Z M508.13,88.33 h2.83 v1.51 h-2.83 Z" fill="#b8861a"/>
<path d="M433.64,96.64 h8.93 v5.13 h-2.86 v-2.31 h-3.21 v2.31 h-2.86 Z" fill="#efc838"/>
<path d="M433.64,101.77 h2.86 v1.71 h-2.86 Z M439.71,101.77 h2.86 v1.71 h-2.86 Z M436.49,99.46 h3.21 v1.71 h-3.21 Z" fill="#b8861a"/>
<path d="M452.64,96.64 h8.93 v5.13 h-2.86 v-2.31 h-3.21 v2.31 h-2.86 Z" fill="#efc838"/>
<path d="M452.64,101.77 h2.86 v1.71 h-2.86 Z M458.71,101.77 h2.86 v1.71 h-2.86 Z M455.49,99.46 h3.21 v1.71 h-3.21 Z" fill="#b8861a"/>
<path d="M471.64,96.64 h8.93 v5.13 h-2.86 v-2.31 h-3.21 v2.31 h-2.86 Z" fill="#efc838"/>
<path d="M471.64,101.77 h2.86 v1.71 h-2.86 Z M477.71,101.77 h2.86 v1.71 h-2.86 Z M474.49,99.46 h3.21 v1.71 h-3.21 Z" fill="#b8861a"/>
<path d="M490.64,96.64 h8.93 v5.13 h-2.86 v-2.31 h-3.21 v2.31 h-2.86 Z" fill="#efc838"/>
<path d="M490.64,101.77 h2.86 v1.71 h-2.86 Z M496.71,101.77 h2.86 v1.71 h-2.86 Z M493.49,99.46 h3.21 v1.71 h-3.21 Z" fill="#b8861a"/>
<path d="M509.64,96.64 h8.93 v5.13 h-2.86 v-2.31 h-3.21 v2.31 h-2.86 Z" fill="#efc838"/>
<path d="M509.64,101.77 h2.86 v1.71 h-2.86 Z M515.71,101.77 h2.86 v1.71 h-2.86 Z M512.49,99.46 h3.21 v1.71 h-3.21 Z" fill="#b8861a"/>
</g>
<text x="474.00" y="112.60" font-size="6.2" fill="#2a2a2a" text-anchor="middle" textLength="31.5" lengthAdjust="spacingAndGlyphs">Metasurface</text>
<path d="M550.50,63.40 L551.06,63.67 L551.82,64.06 L552.73,64.52 L553.75,64.99 L554.85,65.44 L556.00,65.80 L557.24,66.12 L558.61,66.44 L560.07,66.73 L561.55,66.96 L563.01,67.09 L564.40,67.10 L565.73,66.96 L567.05,66.70 L568.35,66.35 L569.61,65.93 L570.84,65.47 L572.00,65.00 L573.12,64.48 L574.20,63.87 L575.24,63.23 L576.22,62.59 L577.15,62.00 L578.00,61.50 L578.76,61.07 L579.41,60.66 L580.01,60.30 L580.59,60.01 L581.17,59.80 L581.80,59.70 L582.48,59.73 L583.18,59.88 L583.89,60.11 L584.60,60.40 L585.31,60.71 L586.00,61.00 L586.69,61.31 L587.39,61.68 L588.08,62.07 L588.75,62.44 L589.39,62.76 L590.00,63.00 L590.56,63.18 L591.09,63.34 L591.59,63.46 L592.07,63.49 L592.54,63.41 L593.00,63.20 L593.46,62.80 L593.90,62.21 L594.34,61.53 L594.75,60.80 L595.14,60.10 L595.50,59.50 L595.82,58.91 L596.09,58.27 L596.34,57.65 L596.58,57.16 L596.83,56.88 L597.10,56.90 L597.40,57.04 L597.71,57.18 L598.04,57.54 L598.36,58.32 L598.69,59.74 L599.00,62.00 L599.31,65.32 L599.61,69.56 L599.91,74.44 L600.21,79.67 L600.51,84.95 L600.80,90.00 L601.09,95.10 L601.39,100.54 L601.68,106.04 L601.97,111.31 L602.24,116.06 L602.50,120.00 L602.74,123.23 L602.96,125.99 L603.17,128.23 L603.37,129.90 L603.58,130.94 L603.80,131.30 L604.03,131.06 L604.27,130.27 L604.51,128.86 L604.75,126.73 L604.98,123.81 L605.20,120.00 L605.38,114.65 L605.53,107.68 L605.67,99.92 L605.83,92.17 L606.03,85.26 L606.30,80.00 L606.65,76.56 L607.05,74.34 L607.50,72.95 L607.98,72.01 L608.49,71.16 L609.00,70.00 L609.51,68.60 L610.03,67.27 L610.58,66.01 L611.16,64.84 L611.79,63.77 L612.50,62.80 L613.26,61.94 L614.06,61.19 L614.92,60.54 L615.85,59.96 L616.87,59.46 L618.00,59.00 L619.29,58.61 L620.75,58.30 L622.29,58.05 L623.86,57.86 L625.39,57.71 L626.80,57.60 L628.09,57.52 L629.33,57.48 L630.51,57.49 L631.67,57.54 L632.83,57.64 L634.00,57.80 L635.19,58.00 L636.39,58.23 L637.58,58.52 L638.75,58.87 L639.89,59.29 L641.00,59.80 L642.05,60.38 L643.06,61.01 L644.04,61.71 L645.01,62.51 L645.99,63.44 L647.00,64.50 L648.06,65.77 L649.17,67.23 L650.29,68.81 L651.39,70.44 L652.43,72.03 L653.40,73.50 L654.28,74.87 L655.09,76.20 L655.85,77.49 L656.58,78.75 L657.29,79.98 L658.00,81.20 L658.70,82.42 L659.39,83.64 L660.06,84.83 L660.71,85.97 L661.36,87.04 L662.00,88.00 L662.63,88.87 L663.24,89.67 L663.85,90.40 L664.46,91.04 L665.07,91.57 L665.70,92.00 L666.35,92.31 L667.00,92.50 L667.66,92.60 L668.33,92.61 L669.01,92.54 L669.70,92.40 L670.41,92.18 L671.13,91.86 L671.87,91.46 L672.60,91.00 L673.31,90.51 L674.00,90.00 L674.69,89.42 L675.41,88.73 L676.12,88.00 L676.76,87.31 L677.30,86.72 L677.70,86.30" fill="none" stroke="#c8323c" stroke-width="0.9" stroke-linejoin="round" stroke-linecap="butt"/>
<path d="M550.50,63.00 L551.09,63.30 L551.91,63.72 L552.88,64.22 L553.93,64.72 L554.99,65.17 L556.00,65.50 L556.95,65.73 L557.89,65.91 L558.84,66.03 L559.83,66.09 L560.88,66.08 L562.00,66.00 L563.24,65.83 L564.59,65.59 L566.00,65.28 L567.41,64.91 L568.76,64.48 L570.00,64.00 L571.13,63.43 L572.21,62.76 L573.23,62.02 L574.19,61.29 L575.12,60.60 L576.00,60.00 L576.85,59.45 L577.65,58.90 L578.41,58.40 L579.13,57.99 L579.79,57.70 L580.40,57.60 L580.93,57.68 L581.37,57.92 L581.76,58.29 L582.13,58.77 L582.54,59.35 L583.00,60.00 L583.54,60.67 L584.14,61.37 L584.76,62.16 L585.37,63.12 L585.96,64.31 L586.50,65.80 L586.98,67.50 L587.43,69.33 L587.84,71.39 L588.24,73.79 L588.62,76.62 L589.00,80.00 L589.36,84.20 L589.69,89.19 L590.01,94.62 L590.33,100.13 L590.66,105.38 L591.00,110.00 L591.37,114.36 L591.77,118.80 L592.17,122.98 L592.57,126.53 L592.95,129.09 L593.30,130.30 L593.61,129.92 L593.90,128.20 L594.17,125.48 L594.43,122.14 L594.71,118.52 L595.00,115.00 L595.31,111.30 L595.64,107.07 L595.97,102.58 L596.31,98.07 L596.65,93.79 L597.00,90.00 L597.35,86.57 L597.70,83.26 L598.05,80.19 L598.41,77.46 L598.80,75.16 L599.20,73.40 L599.63,72.34 L600.09,71.95 L600.57,71.99 L601.05,72.24 L601.53,72.49 L602.00,72.50 L602.43,72.36 L602.81,72.27 L603.19,72.17 L603.61,72.01 L604.10,71.74 L604.70,71.30 L605.38,70.68 L606.10,69.92 L606.89,69.05 L607.79,68.09 L608.81,67.06 L610.00,66.00 L611.39,64.80 L612.99,63.43 L614.71,61.99 L616.49,60.60 L618.28,59.36 L620.00,58.40 L621.67,57.72 L623.33,57.24 L625.00,56.91 L626.67,56.71 L628.33,56.58 L630.00,56.50 L631.71,56.48 L633.48,56.56 L635.25,56.73 L636.96,56.95 L638.56,57.21 L640.00,57.50 L641.23,57.77 L642.30,58.02 L643.25,58.31 L644.15,58.70 L645.05,59.25 L646.00,60.00 L647.00,60.99 L648.00,62.19 L649.00,63.53 L650.00,64.98 L651.00,66.49 L652.00,68.00 L653.01,69.57 L654.04,71.26 L655.06,73.00 L656.07,74.74 L657.06,76.43 L658.00,78.00 L658.90,79.50 L659.78,80.98 L660.62,82.41 L661.44,83.74 L662.24,84.95 L663.00,86.00 L663.72,86.89 L664.41,87.64 L665.06,88.27 L665.70,88.78 L666.34,89.19 L667.00,89.50 L667.68,89.69 L668.37,89.76 L669.06,89.72 L669.74,89.60 L670.39,89.42 L671.00,89.20 L671.55,88.93 L672.05,88.59 L672.52,88.19 L672.99,87.75 L673.47,87.28 L674.00,86.80 L674.62,86.25 L675.32,85.61 L676.04,84.95 L676.71,84.32 L677.29,83.78 L677.70,83.40" fill="none" stroke="#222" stroke-width="0.8" stroke-linejoin="round" stroke-linecap="butt" stroke-dasharray="2.2,1.6"/>
<rect x="551.3" y="41.4" width="126.40000000000009" height="93.9" fill="none" stroke="#555" stroke-width="0.7"/>
<line x1="549.80" y1="41.40" x2="551.30" y2="41.40" stroke="#555" stroke-width="0.6"/>
<line x1="676.20" y1="41.40" x2="677.70" y2="41.40" stroke="#555" stroke-width="0.6"/>
<text x="549.40" y="44.50" font-size="8.8" fill="#555" text-anchor="end">1</text>
<line x1="549.80" y1="64.88" x2="551.30" y2="64.88" stroke="#555" stroke-width="0.6"/>
<line x1="676.20" y1="64.88" x2="677.70" y2="64.88" stroke="#555" stroke-width="0.6"/>
<text x="549.40" y="67.97" font-size="8.8" fill="#555" text-anchor="end" textLength="10.0" lengthAdjust="spacingAndGlyphs">0.8</text>
<line x1="549.80" y1="88.35" x2="551.30" y2="88.35" stroke="#555" stroke-width="0.6"/>
<line x1="676.20" y1="88.35" x2="677.70" y2="88.35" stroke="#555" stroke-width="0.6"/>
<text x="549.40" y="91.45" font-size="8.8" fill="#555" text-anchor="end" textLength="10.0" lengthAdjust="spacingAndGlyphs">0.6</text>
<line x1="549.80" y1="111.83" x2="551.30" y2="111.83" stroke="#555" stroke-width="0.6"/>
<line x1="676.20" y1="111.83" x2="677.70" y2="111.83" stroke="#555" stroke-width="0.6"/>
<text x="549.40" y="114.93" font-size="8.8" fill="#555" text-anchor="end" textLength="10.0" lengthAdjust="spacingAndGlyphs">0.4</text>
<line x1="549.80" y1="135.30" x2="551.30" y2="135.30" stroke="#555" stroke-width="0.6"/>
<line x1="676.20" y1="135.30" x2="677.70" y2="135.30" stroke="#555" stroke-width="0.6"/>
<text x="549.40" y="138.40" font-size="8.8" fill="#555" text-anchor="end" textLength="10.0" lengthAdjust="spacingAndGlyphs">0.2</text>
<line x1="551.30" y1="135.30" x2="551.30" y2="136.80" stroke="#555" stroke-width="0.6"/>
<text x="552.10" y="147.00" font-size="8.8" fill="#555" text-anchor="middle" textLength="9.5" lengthAdjust="spacingAndGlyphs">0.7</text>
<line x1="578.39" y1="135.30" x2="578.39" y2="136.80" stroke="#555" stroke-width="0.6"/>
<text x="579.50" y="147.00" font-size="8.8" fill="#555" text-anchor="middle" textLength="13.3" lengthAdjust="spacingAndGlyphs">0.85</text>
<line x1="605.47" y1="135.30" x2="605.47" y2="136.80" stroke="#555" stroke-width="0.6"/>
<text x="604.80" y="147.00" font-size="8.8" fill="#555" text-anchor="middle">1</text>
<line x1="632.56" y1="135.30" x2="632.56" y2="136.80" stroke="#555" stroke-width="0.6"/>
<text x="633.90" y="147.00" font-size="8.8" fill="#555" text-anchor="middle" textLength="13.3" lengthAdjust="spacingAndGlyphs">1.15</text>
<line x1="659.64" y1="135.30" x2="659.64" y2="136.80" stroke="#555" stroke-width="0.6"/>
<text x="659.40" y="147.00" font-size="8.8" fill="#555" text-anchor="middle" textLength="10.2" lengthAdjust="spacingAndGlyphs">1.3</text>
<line x1="677.70" y1="135.30" x2="677.70" y2="136.80" stroke="#555" stroke-width="0.6"/>
<text x="677.20" y="147.00" font-size="8.8" fill="#555" text-anchor="middle" textLength="8.5" lengthAdjust="spacingAndGlyphs">1.4</text>
<text x="583.40" y="159.50" font-size="8.5" fill="#555" text-anchor="start" textLength="61.8" lengthAdjust="spacingAndGlyphs">Wavelength (μm)</text>
<text x="535.00" y="86.80" font-size="8.4" fill="#555" text-anchor="middle" textLength="63.6" lengthAdjust="spacingAndGlyphs" transform="rotate(-90 535.00 86.80)">Transmittance</text>
<text x="580.60" y="111.40" font-size="8.5" fill="#333" text-anchor="middle" textLength="15.2" lengthAdjust="spacingAndGlyphs">LCP</text>
<text x="617.50" y="111.40" font-size="8.5" fill="#c8323c" text-anchor="middle" textLength="16" lengthAdjust="spacingAndGlyphs">RCP</text>
<text x="650.50" y="56.50" font-size="8.5" fill="#444" text-anchor="start" textLength="22.5" lengthAdjust="spacingAndGlyphs">θ=3.5</text>
<text x="673.20" y="50.60" font-size="5" fill="#444" text-anchor="start">0</text>
<defs>
<linearGradient id="ybC1" x1="0" y1="0" x2="1" y2="0">
 <stop offset="0" stop-color="#fff3b0" stop-opacity="0.25"/>
 <stop offset="0.3" stop-color="#ffe45e"/>
 <stop offset="0.6" stop-color="#ffdc40"/>
 <stop offset="1" stop-color="#fff3b0" stop-opacity="0.25"/>
</linearGradient>
<linearGradient id="ybFade" x1="0" y1="0" x2="0" y2="1">
 <stop offset="0" stop-color="#fff" stop-opacity="0.35"/>
 <stop offset="0.15" stop-color="#fff" stop-opacity="0"/>
 <stop offset="1" stop-color="#fff" stop-opacity="0"/>
</linearGradient>
<linearGradient id="qFront" x1="0" y1="0" x2="1" y2="0">
 <stop offset="0" stop-color="#4a68ee"/>
 <stop offset="1" stop-color="#6f8cf6"/>
</linearGradient>
</defs>
<polygon points="44.50,249.50 115.30,249.50 119.20,303.30 37.80,304.50" fill="#3a5cf0"/>
<polygon points="37.80,304.50 119.20,303.30 119.20,317.80 37.80,318.20" fill="url(#qFront)"/>
<polygon points="37.80,303.80 40.00,303.80 40.00,318.00 37.80,318.00" fill="#2f4cd8"/>
<polygon points="40.00,256.20 47.00,256.20 52.00,262.00 52.00,304.00 38.00,304.00" fill="#3a5cf0"/>
<polygon points="44.50,249.30 78.00,249.30 78.00,258.30 44.50,258.30" fill="#d6dadd"/>
<polygon points="47.00,258.30 72.00,258.30 72.00,262.50 47.00,262.50" fill="#f4f5f6"/>
<polygon points="51.80,262.50 67.30,262.50 67.30,291.00 51.80,291.00" fill="#d9dcdf"/>
<polygon points="51.80,290.60 63.40,290.60 63.40,301.00 51.80,301.00" fill="#f4f5f6"/>
<polygon points="63.40,277.70 72.50,277.70 72.50,302.00 63.40,302.00" fill="#3f60ee"/>
<polygon points="67.30,262.50 72.50,262.50 72.50,277.70 67.30,277.70" fill="#dfe2e4"/>
<polygon points="72.50,249.30 103.50,249.30 103.50,277.70 72.50,277.70" fill="#e2e4e2"/>
<polygon points="72.50,277.70 112.60,277.70 112.60,285.40 72.50,285.40" fill="#d6dadd"/>
<polygon points="72.50,285.40 112.60,285.40 112.60,293.20 72.50,293.20" fill="#f4f5f6"/>
<polygon points="83.60,249.60 90.00,249.60 90.00,260.50 83.60,260.50" fill="#7883b6"/>
<polygon points="103.50,249.60 114.50,249.60 114.50,277.70 103.50,277.70" fill="#3a5cf0"/>
<defs><filter id="blc" x="-50%" y="-20%" width="200%" height="140%"><feGaussianBlur stdDeviation="1.5"/></filter><clipPath id="cclip"><rect x="30" y="191" width="100" height="80"/></clipPath></defs>
<g clip-path="url(#cclip)"><g filter="url(#blc)">
<polygon points="50.00,189.00 68.00,189.00 85.00,246.00 72.00,262.00 66.00,262.00 59.00,246.00" fill="url(#ybC1)" opacity="0.95"/>
<polygon points="97.40,189.00 114.50,189.00 99.00,250.00 92.00,262.00 82.00,262.00 81.00,246.00" fill="url(#ybC1)" opacity="0.95"/>
</g></g>
<polygon points="45.00,191.00 120.00,191.00 120.00,200.00 45.00,200.00" fill="url(#ybFade)"/>
<polygon points="66.00,246.00 100.00,246.00 96.00,262.00 70.00,262.00" fill="#f6e89a" opacity="0.55"/>
<path d="M64.5,196.8 Q65.0,199.65 59.5,202.5 C68.80,199.50 69.20,209.70 60.8,211.2 C69.80,208.20 70.20,218.20 61.8,219.8 C70.60,216.80 71.00,226.60 63.2,228.3 C71.80,225.30 72.20,235.00 65.5,236.0 C74.30,233.00 74.70,241.70 71.8,239.8" fill="none" stroke="#2233c8" stroke-width="1.1" stroke-linejoin="round"/>
<path d="M59.20,202.30 l2.40,0.6" stroke="#2233c8" stroke-width="1.7" stroke-linecap="round"/>
<path d="M60.50,211.00 l2.40,0.6" stroke="#2233c8" stroke-width="1.7" stroke-linecap="round"/>
<path d="M61.50,219.60 l2.40,0.6" stroke="#2233c8" stroke-width="1.7" stroke-linecap="round"/>
<path d="M62.90,228.10 l2.40,0.6" stroke="#2233c8" stroke-width="1.7" stroke-linecap="round"/>
<path d="M65.20,235.80 l2.40,0.6" stroke="#2233c8" stroke-width="1.7" stroke-linecap="round"/>
<circle cx="71.8" cy="239.8" r="1.3" fill="#2233c8"/>
<path d="M100.2,196.8 Q99.7,199.65 104.3,202.5 C94.70,199.50 94.30,209.70 103.3,211.2 C93.70,208.20 93.30,218.20 101.6,219.8 C91.50,216.80 91.10,227.00 99.2,228.3 C89.20,225.30 88.80,235.20 94.0,236.5 C85.70,233.50 85.30,241.70 87.6,240.2" fill="none" stroke="#d62020" stroke-width="1.1" stroke-linejoin="round"/>
<path d="M104.60,202.30 l-2.40,0.6" stroke="#d62020" stroke-width="1.7" stroke-linecap="round"/>
<path d="M103.60,211.00 l-2.40,0.6" stroke="#d62020" stroke-width="1.7" stroke-linecap="round"/>
<path d="M101.90,219.60 l-2.40,0.6" stroke="#d62020" stroke-width="1.7" stroke-linecap="round"/>
<path d="M99.50,228.10 l-2.40,0.6" stroke="#d62020" stroke-width="1.7" stroke-linecap="round"/>
<path d="M94.30,236.30 l-2.40,0.6" stroke="#d62020" stroke-width="1.7" stroke-linecap="round"/>
<circle cx="87.6" cy="240.2" r="1.3" fill="#d62020"/>
<text x="37.00" y="229.40" font-size="14" fill="#111" text-anchor="middle" textLength="28" lengthAdjust="spacingAndGlyphs">RCP</text>
<text x="120.60" y="230.00" font-size="14" fill="#111" text-anchor="middle" textLength="26" lengthAdjust="spacingAndGlyphs">LCP</text>
<polygon points="83.60,249.60 90.00,249.60 90.00,260.50 83.60,260.50" fill="#7883b6" opacity="0.75"/>
<text x="42.60" y="255.20" font-size="9" fill="#111" text-anchor="start">s</text>
<line x1="47.60" y1="250.50" x2="47.20" y2="254.50" stroke="#111" stroke-width="0.6"/>
<text x="57.60" y="258.30" font-size="9" fill="#111" text-anchor="start">r</text>
<line x1="48.00" y1="259.60" x2="71.00" y2="259.60" stroke="#111" stroke-width="0.55"/>
<path d="M47.2,259.6 L50,258.5 L50,260.7 Z M71.4,259.6 L68.6,258.5 L68.6,260.7 Z" fill="#111"/>
<text x="55.80" y="268.60" font-size="9" fill="#111" text-anchor="start" textLength="7.6" lengthAdjust="spacingAndGlyphs">w</text>
<line x1="64.60" y1="264.60" x2="64.40" y2="268.40" stroke="#111" stroke-width="0.6"/>
<line x1="77.50" y1="250.50" x2="77.50" y2="281.50" stroke="#111" stroke-width="0.5"/>
<path d="M77.5,250 L76.5,252.6 L78.5,252.6 Z M77.5,282 L76.5,279.4 L78.5,279.4 Z" fill="#111"/>
<text x="81.00" y="269.90" font-size="9" fill="#111" text-anchor="start">l</text>
<text x="93.80" y="273.20" font-size="9" fill="#111" text-anchor="start">g</text>
<line x1="99.60" y1="269.40" x2="99.40" y2="273.20" stroke="#111" stroke-width="0.6"/>
<line x1="112.00" y1="249.60" x2="122.90" y2="303.40" stroke="#111" stroke-width="0.5"/>
<text x="118.80" y="271.80" font-size="9" fill="#111" text-anchor="start">p</text>
<text x="92.20" y="293.20" font-size="9" fill="#111" text-anchor="start" textLength="14.2" lengthAdjust="spacingAndGlyphs">TiO</text>
<text x="106.40" y="295.40" font-size="6" fill="#111" text-anchor="start">2</text>
<text x="64.50" y="299.60" font-size="9" fill="#111" text-anchor="start" textLength="5.2" lengthAdjust="spacingAndGlyphs">h</text>
<line x1="64.40" y1="293.00" x2="64.40" y2="301.50" stroke="#111" stroke-width="0.6"/>
<text x="42.00" y="315.20" font-size="9" fill="#111" text-anchor="start" font-style="italic" textLength="26.8" lengthAdjust="spacingAndGlyphs">Quartz</text>
<line x1="166.60" y1="251.35" x2="314.30" y2="251.35" stroke="#555" stroke-width="0.8"/>
<path d="M166.60,253.29 L167.76,253.32 L169.34,253.35 L171.22,253.39 L173.30,253.43 L175.49,253.46 L177.68,253.49 L179.97,253.50 L182.46,253.51 L185.06,253.52 L187.66,253.52 L190.16,253.51 L192.45,253.49 L194.57,253.45 L196.62,253.41 L198.56,253.36 L200.38,253.30 L202.04,253.21 L203.53,253.10 L204.77,252.96 L205.78,252.79 L206.64,252.60 L207.42,252.39 L208.20,252.17 L209.06,251.93 L209.97,251.68 L210.84,251.42 L211.72,251.14 L212.62,250.85 L213.57,250.53 L214.60,250.18 L215.73,249.80 L216.93,249.38 L218.18,248.94 L219.46,248.49 L220.74,248.06 L221.99,247.66 L223.22,247.29 L224.45,246.93 L225.68,246.59 L226.91,246.27 L228.14,245.98 L229.37,245.72 L230.62,245.48 L231.90,245.27 L233.18,245.08 L234.43,244.92 L235.63,244.81 L236.76,244.75 L237.82,244.75 L238.85,244.80 L239.83,244.89 L240.74,245.02 L241.57,245.17 L242.30,245.33 L242.90,245.56 L243.39,245.86 L243.80,246.19 L244.16,246.48 L244.51,246.67 L244.88,246.69 L245.28,246.50 L245.66,246.14 L246.03,245.68 L246.40,245.19 L246.75,244.72 L247.10,244.36 L247.43,244.02 L247.77,243.65 L248.09,243.30 L248.40,243.07 L248.68,243.00 L248.94,243.19 L249.17,243.80 L249.37,244.81 L249.54,245.99 L249.71,247.13 L249.87,248.02 L250.05,248.44 L250.20,248.33 L250.31,247.84 L250.42,247.10 L250.57,246.23 L250.80,245.34 L251.16,244.55 L251.65,243.83 L252.24,243.05 L252.91,242.26 L253.65,241.48 L254.42,240.75 L255.22,240.09 L256.06,239.49 L256.96,238.94 L257.90,238.44 L258.86,237.97 L259.82,237.55 L260.76,237.18 L261.68,236.85 L262.60,236.59 L263.53,236.36 L264.45,236.17 L265.37,235.99 L266.30,235.82 L267.23,235.67 L268.17,235.57 L269.11,235.49 L270.04,235.39 L270.96,235.25 L271.84,235.04 L272.70,234.75 L273.57,234.39 L274.42,234.00 L275.23,233.57 L275.97,233.14 L276.64,232.71 L277.20,232.28 L277.69,231.85 L278.11,231.40 L278.50,230.94 L278.86,230.47 L279.22,229.99 L279.58,229.40 L279.91,228.68 L280.21,227.95 L280.51,227.33 L280.79,226.93 L281.07,226.88 L281.34,227.29 L281.60,228.08 L281.85,229.09 L282.09,230.18 L282.32,231.18 L282.54,231.93 L282.75,232.53 L282.93,233.10 L283.10,233.58 L283.27,233.92 L283.45,234.04 L283.65,233.87 L283.87,233.33 L284.10,232.44 L284.34,231.33 L284.60,230.14 L284.86,229.00 L285.13,228.05 L285.42,227.22 L285.72,226.40 L286.03,225.62 L286.35,224.96 L286.66,224.45 L286.98,224.17 L287.29,224.18 L287.60,224.47 L287.92,224.92 L288.23,225.42 L288.54,225.85 L288.82,226.11 L289.09,226.23 L289.33,226.30 L289.56,226.31 L289.79,226.24 L290.04,226.05 L290.30,225.72 L290.59,225.18 L290.89,224.42 L291.20,223.55 L291.52,222.66 L291.83,221.87 L292.14,221.25 L292.45,220.71 L292.76,220.15 L293.07,219.66 L293.38,219.38 L293.68,219.42 L293.99,219.89 L294.30,220.83 L294.61,222.14 L294.91,223.77 L295.22,225.65 L295.53,227.75 L295.84,229.99 L296.15,232.58 L296.45,235.59 L296.76,238.81 L297.07,242.02 L297.38,244.97 L297.68,247.47 L297.99,249.53 L298.30,251.35 L298.61,252.93 L298.91,254.26 L299.22,255.35 L299.53,256.20 L299.84,256.72 L300.15,256.89 L300.45,256.81 L300.76,256.60 L301.07,256.36 L301.38,256.20 L301.67,256.03 L301.95,255.74 L302.23,255.42 L302.53,255.16 L302.85,255.07 L303.22,255.23 L303.66,255.68 L304.14,256.33 L304.65,257.14 L305.18,258.07 L305.69,259.07 L306.18,260.09 L306.64,261.31 L307.09,262.80 L307.54,264.36 L307.97,265.79 L308.38,266.89 L308.76,267.47 L309.11,267.43 L309.43,266.92 L309.73,266.08 L310.02,265.06 L310.31,263.98 L310.61,263.00 L310.92,262.02 L311.22,260.92 L311.53,259.77 L311.84,258.65 L312.15,257.63 L312.45,256.79 L312.78,256.12 L313.14,255.58 L313.49,255.14 L313.82,254.78 L314.10,254.49 L314.30,254.26" fill="none" stroke="#8c8a14" stroke-width="1.7" stroke-linejoin="round" stroke-linecap="butt"/>
<path d="M166.60,249.41 L167.76,249.38 L169.34,249.35 L171.22,249.31 L173.30,249.27 L175.49,249.24 L177.68,249.21 L179.97,249.20 L182.46,249.19 L185.06,249.18 L187.66,249.18 L190.16,249.19 L192.45,249.21 L194.57,249.25 L196.62,249.29 L198.56,249.34 L200.38,249.40 L202.04,249.49 L203.53,249.60 L204.77,249.75 L205.78,249.92 L206.64,250.11 L207.42,250.32 L208.20,250.54 L209.06,250.77 L209.97,250.99 L210.84,251.22 L211.72,251.46 L212.62,251.72 L213.57,252.00 L214.60,252.32 L215.73,252.69 L216.93,253.11 L218.18,253.56 L219.46,254.01 L220.74,254.45 L221.99,254.85 L223.22,255.21 L224.45,255.57 L225.68,255.91 L226.91,256.23 L228.14,256.53 L229.37,256.79 L230.62,257.02 L231.90,257.24 L233.18,257.43 L234.43,257.59 L235.63,257.70 L236.76,257.76 L237.82,257.76 L238.85,257.71 L239.83,257.61 L240.74,257.48 L241.57,257.34 L242.30,257.18 L242.90,256.95 L243.39,256.64 L243.80,256.31 L244.16,256.02 L244.51,255.84 L244.88,255.82 L245.28,256.01 L245.66,256.37 L246.03,256.84 L246.40,257.33 L246.75,257.79 L247.10,258.15 L247.43,258.43 L247.77,258.71 L248.09,258.96 L248.40,259.13 L248.68,259.20 L248.94,259.12 L249.17,258.78 L249.37,258.18 L249.54,257.48 L249.71,256.82 L249.87,256.34 L250.05,256.20 L250.20,256.47 L250.31,257.03 L250.42,257.78 L250.57,258.61 L250.80,259.42 L251.16,260.09 L251.65,260.63 L252.24,261.13 L252.91,261.60 L253.65,262.07 L254.42,262.53 L255.22,263.00 L256.06,263.50 L256.96,264.02 L257.90,264.54 L258.86,265.04 L259.82,265.51 L260.76,265.91 L261.68,266.26 L262.60,266.57 L263.53,266.85 L264.45,267.08 L265.37,267.29 L266.30,267.47 L267.23,267.58 L268.17,267.62 L269.11,267.64 L270.04,267.65 L270.96,267.71 L271.84,267.85 L272.70,268.08 L273.57,268.35 L274.42,268.67 L275.23,269.02 L275.97,269.40 L276.64,269.80 L277.20,270.22 L277.69,270.67 L278.11,271.16 L278.50,271.66 L278.86,272.18 L279.22,272.71 L279.58,273.35 L279.91,274.13 L280.21,274.92 L280.51,275.61 L280.79,276.08 L281.07,276.20 L281.34,275.90 L281.60,275.25 L281.85,274.37 L282.09,273.41 L282.32,272.48 L282.54,271.74 L282.75,271.07 L282.93,270.36 L283.10,269.70 L283.27,269.16 L283.45,268.84 L283.65,268.83 L283.87,269.16 L284.10,269.80 L284.34,270.65 L284.60,271.63 L284.86,272.67 L285.13,273.68 L285.42,274.82 L285.72,276.20 L286.03,277.62 L286.35,278.93 L286.66,279.94 L286.98,280.48 L287.29,280.43 L287.60,279.91 L287.92,279.10 L288.23,278.17 L288.54,277.27 L288.82,276.59 L289.09,276.03 L289.33,275.42 L289.56,274.86 L289.79,274.42 L290.04,274.19 L290.30,274.26 L290.59,274.72 L290.89,275.51 L291.20,276.52 L291.52,277.61 L291.83,278.64 L292.14,279.50 L292.45,280.30 L292.76,281.17 L293.07,281.98 L293.38,282.63 L293.68,283.01 L293.99,283.00 L294.30,282.63 L294.61,282.01 L294.91,281.11 L295.22,279.91 L295.53,278.42 L295.84,276.59 L296.15,274.28 L296.45,271.44 L296.76,268.30 L297.07,265.06 L297.38,261.93 L297.68,259.12 L297.99,256.45 L298.30,253.72 L298.61,251.11 L298.91,248.76 L299.22,246.85 L299.53,245.52 L299.84,244.96 L300.15,245.06 L300.45,245.59 L300.76,246.32 L301.07,247.02 L301.38,247.47 L301.67,247.75 L301.95,248.08 L302.23,248.38 L302.53,248.58 L302.85,248.62 L303.22,248.44 L303.66,248.00 L304.14,247.36 L304.65,246.56 L305.18,245.63 L305.69,244.63 L306.18,243.58 L306.64,242.32 L307.09,240.78 L307.54,239.15 L307.97,237.65 L308.38,236.47 L308.76,235.82 L309.11,235.76 L309.43,236.14 L309.73,236.85 L310.02,237.76 L310.31,238.75 L310.61,239.70 L310.92,240.72 L311.22,241.93 L311.53,243.22 L311.84,244.48 L312.15,245.61 L312.45,246.50 L312.78,247.12 L313.14,247.57 L313.49,247.89 L313.82,248.11 L314.10,248.28 L314.30,248.44" fill="none" stroke="#1428f0" stroke-width="1.7" stroke-linejoin="round" stroke-linecap="butt"/>
<rect x="166.6" y="193.1" width="147.70000000000002" height="116.50000000000003" fill="none" stroke="#444" stroke-width="0.6"/>
<line x1="164.80" y1="193.10" x2="166.60" y2="193.10" stroke="#444" stroke-width="0.5"/>
<text x="164.10" y="194.80" font-size="4.8" fill="#222" text-anchor="end">30</text>
<line x1="164.80" y1="212.52" x2="166.60" y2="212.52" stroke="#444" stroke-width="0.5"/>
<text x="164.10" y="214.22" font-size="4.8" fill="#222" text-anchor="end">20</text>
<line x1="164.80" y1="231.93" x2="166.60" y2="231.93" stroke="#444" stroke-width="0.5"/>
<text x="164.10" y="233.63" font-size="4.8" fill="#222" text-anchor="end">10</text>
<line x1="164.80" y1="251.35" x2="166.60" y2="251.35" stroke="#444" stroke-width="0.5"/>
<text x="164.10" y="253.05" font-size="4.8" fill="#222" text-anchor="end">0</text>
<line x1="164.80" y1="270.77" x2="166.60" y2="270.77" stroke="#444" stroke-width="0.5"/>
<text x="164.10" y="272.47" font-size="4.8" fill="#222" text-anchor="end">-10</text>
<line x1="164.80" y1="290.18" x2="166.60" y2="290.18" stroke="#444" stroke-width="0.5"/>
<text x="164.10" y="291.88" font-size="4.8" fill="#222" text-anchor="end">-20</text>
<line x1="164.80" y1="309.60" x2="166.60" y2="309.60" stroke="#444" stroke-width="0.5"/>
<text x="164.10" y="311.30" font-size="4.8" fill="#222" text-anchor="end">-30</text>
<line x1="165.60" y1="202.81" x2="166.60" y2="202.81" stroke="#444" stroke-width="0.4"/>
<line x1="165.60" y1="222.22" x2="166.60" y2="222.22" stroke="#444" stroke-width="0.4"/>
<line x1="165.60" y1="241.64" x2="166.60" y2="241.64" stroke="#444" stroke-width="0.4"/>
<line x1="165.60" y1="261.06" x2="166.60" y2="261.06" stroke="#444" stroke-width="0.4"/>
<line x1="165.60" y1="280.48" x2="166.60" y2="280.48" stroke="#444" stroke-width="0.4"/>
<line x1="165.60" y1="299.89" x2="166.60" y2="299.89" stroke="#444" stroke-width="0.4"/>
<line x1="185.06" y1="309.60" x2="185.06" y2="311.40" stroke="#444" stroke-width="0.5"/>
<text x="185.06" y="317.60" font-size="4.8" fill="#222" text-anchor="middle">500</text>
<line x1="221.99" y1="309.60" x2="221.99" y2="311.40" stroke="#444" stroke-width="0.5"/>
<text x="221.99" y="317.60" font-size="4.8" fill="#222" text-anchor="middle">600</text>
<line x1="258.91" y1="309.60" x2="258.91" y2="311.40" stroke="#444" stroke-width="0.5"/>
<text x="258.91" y="317.60" font-size="4.8" fill="#222" text-anchor="middle">700</text>
<line x1="295.84" y1="309.60" x2="295.84" y2="311.40" stroke="#444" stroke-width="0.5"/>
<text x="295.84" y="317.60" font-size="4.8" fill="#222" text-anchor="middle">800</text>
<line x1="166.60" y1="309.60" x2="166.60" y2="310.60" stroke="#444" stroke-width="0.4"/>
<line x1="203.53" y1="309.60" x2="203.53" y2="310.60" stroke="#444" stroke-width="0.4"/>
<line x1="240.45" y1="309.60" x2="240.45" y2="310.60" stroke="#444" stroke-width="0.4"/>
<line x1="277.38" y1="309.60" x2="277.38" y2="310.60" stroke="#444" stroke-width="0.4"/>
<line x1="314.30" y1="309.60" x2="314.30" y2="310.60" stroke="#444" stroke-width="0.4"/>
<text x="240.60" y="326.60" font-size="7" fill="#222" text-anchor="middle" textLength="47" lengthAdjust="spacingAndGlyphs">Wavelength (nm)</text>
<text x="149.60" y="248.30" font-size="6.4" fill="#222" text-anchor="middle" textLength="59" lengthAdjust="spacingAndGlyphs" transform="rotate(-90 149.60 248.30)">Circular dichroism (%)</text>
<line x1="250.90" y1="200.20" x2="264.60" y2="200.20" stroke="#1428f0" stroke-width="1.4"/>
<line x1="250.90" y1="208.50" x2="264.60" y2="208.50" stroke="#8c8a14" stroke-width="1.4"/>
<text x="268.30" y="202.50" font-size="6.1" fill="#222" text-anchor="start" textLength="19.1" lengthAdjust="spacingAndGlyphs">RPCM,</text>
<text x="290.00" y="202.50" font-size="6.1" fill="#222" text-anchor="start" textLength="20.9" lengthAdjust="spacingAndGlyphs"><tspan font-style="italic">φ</tspan>=5.74°</text>
<text x="268.30" y="210.60" font-size="6.1" fill="#222" text-anchor="start" textLength="19.1" lengthAdjust="spacingAndGlyphs">LPCM,</text>
<text x="290.00" y="210.60" font-size="6.1" fill="#222" text-anchor="start" textLength="20.9" lengthAdjust="spacingAndGlyphs"><tspan font-style="italic">φ</tspan>=5.74°</text>
<defs>
<linearGradient id="gbeam" x1="0" y1="0" x2="1" y2="0">
 <stop offset="0" stop-color="#e8f8e8" stop-opacity="0"/>
 <stop offset="0.5" stop-color="#a8e2a8" stop-opacity="0.9"/>
 <stop offset="1" stop-color="#e8f8e8" stop-opacity="0"/>
</linearGradient>
<linearGradient id="gbeamV" x1="0" y1="0" x2="0" y2="1">
 <stop offset="0" stop-color="#fff" stop-opacity="0.9"/>
 <stop offset="0.3" stop-color="#fff" stop-opacity="0"/>
 <stop offset="1" stop-color="#fff" stop-opacity="0"/>
</linearGradient>
<linearGradient id="rbeam" x1="0.8" y1="1" x2="0.2" y2="0">
 <stop offset="0" stop-color="#ff5a30" stop-opacity="0.85"/>
 <stop offset="0.5" stop-color="#ff8c78" stop-opacity="0.6"/>
 <stop offset="1" stop-color="#ffd0c8" stop-opacity="0.1"/>
</linearGradient>
<linearGradient id="pbeam" x1="1" y1="0.5" x2="0" y2="0.2">
 <stop offset="0" stop-color="#7a50c0" stop-opacity="0.75"/>
 <stop offset="0.55" stop-color="#a888dc" stop-opacity="0.6"/>
 <stop offset="1" stop-color="#e6dcf6" stop-opacity="0.1"/>
</linearGradient>
<linearGradient id="dTop" x1="0" y1="0" x2="1" y2="1">
 <stop offset="0" stop-color="#1e8fd0"/>
 <stop offset="1" stop-color="#157cc0"/>
</linearGradient>
</defs>
<defs><filter id="bl3" x="-50%" y="-50%" width="200%" height="200%"><feGaussianBlur stdDeviation="3"/></filter><filter id="bl2" x="-50%" y="-50%" width="200%" height="200%"><feGaussianBlur stdDeviation="2"/></filter></defs>
<g filter="url(#bl3)">
<polygon points="458.00,207.00 477.00,207.00 477.00,268.00 458.00,268.00" fill="#a6e2a6" opacity="0.95"/>
<polygon points="400.00,252.00 404.00,226.00 462.00,264.00 446.00,276.00" fill="url(#pbeam)"/>
<polygon points="410.00,214.00 428.00,200.00 444.00,204.00 463.00,262.00 450.00,274.00" fill="url(#rbeam)"/>
</g>
<polygon points="412.90,281.80 444.50,303.50 444.50,314.30 412.90,292.60" fill="#bdbdbd"/>
<polygon points="444.50,303.50 522.00,297.60 522.00,308.40 444.50,314.30" fill="#c9c9c9"/>
<polygon points="412.90,274.80 444.50,296.50 444.50,303.50 412.90,281.80" fill="#0c0c0c"/>
<polygon points="444.50,296.50 522.00,290.60 522.00,297.60 444.50,303.50" fill="#111"/>
<polygon points="412.90,267.30 444.50,289.00 444.50,296.50 412.90,274.80" fill="#1877b8"/>
<polygon points="444.50,289.00 522.00,283.10 522.00,290.60 444.50,296.50" fill="#1a86c8"/>
<polygon points="412.90,267.30 444.50,289.00 522.00,283.10 490.40,261.40" fill="url(#dTop)"/>
<polygon points="432.05,272.94 436.65,272.59 436.65,275.19 432.05,275.54" fill="#f4f4f4"/>
<polygon points="440.23,272.32 444.83,271.97 444.83,274.57 440.23,274.92" fill="#f4f4f4"/>
<polygon points="431.15,268.82 434.73,268.54 434.73,271.14 431.15,271.42" fill="#f0f0f0"/>
<polygon points="422.57,266.43 432.05,272.94 432.05,275.54 422.57,269.03" fill="#e2e2e2"/>
<polygon points="434.73,268.54 440.23,272.32 440.23,274.92 434.73,271.14" fill="#e2e2e2"/>
<polygon points="422.57,266.43 435.35,265.46 444.83,271.97 440.23,272.32 434.73,268.54 431.15,268.82 436.65,272.59 432.05,272.94" fill="#cdcfd2"/>
<circle cx="435.79" cy="273.23" r="0.9" fill="#1a86c8"/>
<polygon points="459.75,270.04 464.35,269.69 464.35,272.29 459.75,272.64" fill="#f4f4f4" opacity="0.7"/>
<polygon points="467.93,269.42 472.53,269.07 472.53,271.67 467.93,272.02" fill="#f4f4f4" opacity="0.7"/>
<polygon points="458.85,265.92 462.43,265.64 462.43,268.24 458.85,268.52" fill="#f0f0f0" opacity="0.7"/>
<polygon points="450.27,263.53 459.75,270.04 459.75,272.64 450.27,266.13" fill="#e2e2e2" opacity="0.7"/>
<polygon points="462.43,265.64 467.93,269.42 467.93,272.02 462.43,268.24" fill="#e2e2e2" opacity="0.7"/>
<polygon points="450.27,263.53 463.05,262.56 472.53,269.07 467.93,269.42 462.43,265.64 458.85,265.92 464.35,269.69 459.75,270.04" fill="#cdcfd2" opacity="0.7"/>
<circle cx="463.49" cy="270.33" r="0.9" fill="#1a86c8" opacity="0.7"/>
<polygon points="483.85,269.04 488.45,268.69 488.45,271.29 483.85,271.64" fill="#f4f4f4"/>
<polygon points="492.03,268.42 496.63,268.07 496.63,270.67 492.03,271.02" fill="#f4f4f4"/>
<polygon points="482.95,264.92 486.53,264.64 486.53,267.24 482.95,267.52" fill="#f0f0f0"/>
<polygon points="474.37,262.53 483.85,269.04 483.85,271.64 474.37,265.13" fill="#e2e2e2"/>
<polygon points="486.53,264.64 492.03,268.42 492.03,271.02 486.53,267.24" fill="#e2e2e2"/>
<polygon points="474.37,262.53 487.15,261.56 496.63,268.07 492.03,268.42 486.53,264.64 482.95,264.92 488.45,268.69 483.85,269.04" fill="#cdcfd2"/>
<circle cx="487.59" cy="269.33" r="0.9" fill="#1a86c8"/>
<polygon points="446.35,282.84 450.95,282.49 450.95,285.09 446.35,285.44" fill="#f4f4f4"/>
<polygon points="454.53,282.22 459.13,281.87 459.13,284.47 454.53,284.82" fill="#f4f4f4"/>
<polygon points="445.45,278.72 449.03,278.44 449.03,281.04 445.45,281.32" fill="#f0f0f0"/>
<polygon points="436.87,276.33 446.35,282.84 446.35,285.44 436.87,278.93" fill="#e2e2e2"/>
<polygon points="449.03,278.44 454.53,282.22 454.53,284.82 449.03,281.04" fill="#e2e2e2"/>
<polygon points="436.87,276.33 449.65,275.36 459.13,281.87 454.53,282.22 449.03,278.44 445.45,278.72 450.95,282.49 446.35,282.84" fill="#cdcfd2"/>
<circle cx="450.09" cy="283.13" r="0.9" fill="#1a86c8"/>
<polygon points="472.55,282.34 477.15,281.99 477.15,284.59 472.55,284.94" fill="#f4f4f4"/>
<polygon points="480.73,281.72 485.33,281.37 485.33,283.97 480.73,284.32" fill="#f4f4f4"/>
<polygon points="471.65,278.22 475.23,277.94 475.23,280.54 471.65,280.82" fill="#f0f0f0"/>
<polygon points="463.07,275.83 472.55,282.34 472.55,284.94 463.07,278.43" fill="#e2e2e2"/>
<polygon points="475.23,277.94 480.73,281.72 480.73,284.32 475.23,280.54" fill="#e2e2e2"/>
<polygon points="463.07,275.83 475.85,274.86 485.33,281.37 480.73,281.72 475.23,277.94 471.65,278.22 477.15,281.99 472.55,282.34" fill="#cdcfd2"/>
<circle cx="476.29" cy="282.63" r="0.9" fill="#1a86c8"/>
<polygon points="498.75,279.94 503.35,279.59 503.35,282.19 498.75,282.54" fill="#f4f4f4"/>
<polygon points="506.93,279.32 511.53,278.97 511.53,281.57 506.93,281.92" fill="#f4f4f4"/>
<polygon points="497.85,275.82 501.43,275.54 501.43,278.14 497.85,278.42" fill="#f0f0f0"/>
<polygon points="489.27,273.43 498.75,279.94 498.75,282.54 489.27,276.03" fill="#e2e2e2"/>
<polygon points="501.43,275.54 506.93,279.32 506.93,281.92 501.43,278.14" fill="#e2e2e2"/>
<polygon points="489.27,273.43 502.05,272.46 511.53,278.97 506.93,279.32 501.43,275.54 497.85,275.82 503.35,279.59 498.75,279.94" fill="#cdcfd2"/>
<circle cx="502.49" cy="280.23" r="0.9" fill="#1a86c8"/>
<circle cx="421" cy="270" r="0.8" fill="#e03030"/>
<circle cx="446" cy="267" r="0.8" fill="#e03030"/>
<circle cx="473" cy="265.5" r="0.8" fill="#e03030"/>
<circle cx="456" cy="275" r="0.8" fill="#e03030"/>
<circle cx="482" cy="273.5" r="0.8" fill="#e03030"/>
<circle cx="437" cy="279" r="0.8" fill="#e03030"/>
<circle cx="463" cy="278" r="0.8" fill="#e03030"/>
<circle cx="490" cy="276.5" r="0.8" fill="#e03030"/>
<circle cx="511" cy="276" r="0.8" fill="#e03030"/>
<circle cx="458" cy="288" r="0.8" fill="#e03030"/>
<circle cx="485" cy="286.5" r="0.8" fill="#e03030"/>
<circle cx="429" cy="275.5" r="0.8" fill="#e03030"/>
<circle cx="500" cy="271" r="0.8" fill="#e03030"/>
<circle cx="467" cy="272" r="0.8" fill="#e03030"/>
<circle cx="452.5" cy="283.5" r="0.8" fill="#e03030"/>
<line x1="466.40" y1="228.00" x2="466.40" y2="286.00" stroke="#111" stroke-width="0.9" stroke-dasharray="2,1.8"/>
<path d="M464.4,228 L466.4,223.5 L468.4,228 Z" fill="#111"/>
<text x="468.60" y="217.60" font-size="8.0" fill="#111" text-anchor="middle" font-weight="bold" transform="rotate(-90 468.60 217.60)">z</text>
<line x1="407.00" y1="280.30" x2="465.50" y2="281.50" stroke="#111" stroke-width="0.9" stroke-dasharray="2,1.8"/>
<path d="M408,278.3 L403.5,280.3 L408,282.3 Z" fill="#111"/>
<text x="390.80" y="283.80" font-size="8.6" fill="#111" text-anchor="start" font-weight="bold">x</text>
<line x1="465.50" y1="281.50" x2="494.00" y2="302.00" stroke="#111" stroke-width="0.9" stroke-dasharray="2,1.8"/>
<path d="M492,299 L496.5,304 L490,303 Z" fill="#111"/>
<text x="495.30" y="314.50" font-size="8.6" fill="#111" text-anchor="start" font-weight="bold">y</text>
<line x1="428.00" y1="223.50" x2="462.50" y2="273.00" stroke="#e8302a" stroke-width="0.8"/>
<path d="M450.8,254.7 Q455,247.8 460,247.6 L465,247.7" fill="none" stroke="#e8302a" stroke-width="0.9"/><path d="M463.5,246.2 L466.8,247.7 L463.5,249.2 Z" fill="#e8302a"/>
<line x1="415.80" y1="247.00" x2="466.00" y2="264.50" stroke="#5a3a9a" stroke-width="0.7"/>
<path d="M451.4,264.5 Q454.5,257.6 460,257.6 L465,257.6" fill="none" stroke="#4a3a90" stroke-width="0.9"/><path d="M463.5,256.1 L466.8,257.6 L463.5,259.1 Z" fill="#4a3a90"/>
<path d="M431.18,208.91 L431.41,209.02 L431.63,209.16 L431.84,209.33 L432.03,209.51 L432.22,209.73 L432.39,209.97 L432.55,210.23 L432.70,210.51 L432.83,210.82 L432.95,211.15 L433.05,211.50 L433.15,211.87 L433.23,212.26 L433.29,212.66 L433.34,213.09 L433.38,213.54 L433.40,213.99 L433.41,214.47 L433.40,214.96 L433.38,215.46 L433.35,215.98 L433.30,216.50 L433.24,217.04 L433.17,217.58 L433.08,218.13 L432.98,218.69 L432.87,219.25 L432.75,219.82 L432.61,220.39 L432.47,220.96 L432.31,221.53 L432.14,222.10 L431.96,222.67 L431.77,223.23 L431.57,223.79 L431.37,224.35 L431.15,224.89 L430.93,225.43 L430.70,225.96 L430.47,226.48 L430.23,226.99 L429.98,227.48 L429.73,227.96 L429.48,228.43 L429.22,228.88 L428.96,229.31 L428.70,229.73 L428.43,230.13 L428.17,230.51 L427.90,230.86 L427.64,231.20 L427.38,231.52 L427.12,231.81 L426.86,232.08 L426.61,232.33 L426.36,232.55 L426.11,232.75 L425.87,232.92 L425.63,233.07 L425.40,233.20 L425.18,233.29 L424.97,233.36 L424.76,233.41 L424.56,233.43 L424.38,233.42 L424.20,233.39 L424.03,233.33 L423.87,233.25 L423.72,233.14 L423.59,233.01 L423.46,232.85 L423.35,232.67 L423.25,232.46 L423.17,232.23 L423.09,231.97 L423.03,231.70 L422.98,231.40 L422.95,231.08 L422.93,230.74 L422.92,230.38 L422.93,230.01 L422.96,229.61 L422.99,229.20 L423.04,228.77 L423.11,228.33 L423.18,227.88 L423.28,227.41 L423.38,226.93 L423.50,226.44 L423.63,225.94 L423.78,225.43 L423.94,224.91 L424.11,224.39 L424.29,223.86 L424.49,223.34 L424.70,222.80 L424.92,222.27 L425.15,221.74 L425.39,221.21 L425.63,220.68 L425.89,220.15 L426.16,219.63 L426.44,219.12 L426.72,218.61 L427.02,218.11 L427.31,217.63 L427.62,217.15 L427.93,216.68 L428.25,216.23 L428.57,215.79 L428.89,215.37 L429.22,214.96 L429.55,214.57 L429.88,214.20 L430.21,213.85 L430.54,213.51 L430.87,213.20 L431.20,212.91 L431.53,212.64 L431.86,212.39 L432.19,212.17 L432.51,211.96 L432.82,211.79 L433.14,211.64 L433.44,211.51 L433.75,211.41 L434.04,211.33 L434.33,211.28 L434.61,211.25 L434.88,211.25 L435.14,211.28 L435.39,211.33 L435.64,211.41 L435.87,211.52 L436.09,211.65 L436.30,211.80 L436.50,211.98 L436.69,212.19 L436.87,212.42 L437.03,212.67 L437.18,212.95 L437.32,213.25 L437.44,213.57 L437.55,213.91 L437.65,214.27 L437.73,214.66 L437.80,215.06 L437.86,215.48 L437.90,215.92 L437.93,216.37 L437.94,216.84 L437.94,217.33 L437.92,217.83 L437.90,218.34 L437.85,218.86 L437.80,219.39 L437.73,219.93 L437.65,220.48 L437.55,221.04 L437.44,221.60 L437.32,222.16 L437.19,222.73 L437.05,223.30 L436.89,223.87 L436.73,224.44 L436.55,225.01 L436.37,225.58 L436.17,226.14 L435.97,226.70 L435.76,227.25 L435.54,227.79 L435.31,228.32 L435.08,228.84 L434.84,229.35 L434.60,229.85 L434.35,230.34 L434.10,230.81 L433.84,231.26 L433.58,231.70 L433.32,232.13 L433.05,232.53 L432.79,232.92 L432.53,233.28 L432.26,233.62 L432.00,233.95 L431.74,234.25 L431.48,234.53 L431.22,234.78 L430.97,235.01 L430.72,235.22 L430.48,235.40 L430.24,235.56 L430.01,235.69 L429.79,235.80 L429.57,235.88 L429.36,235.93 L429.16,235.96 L428.97,235.96 L428.79,235.94 L428.62,235.89 L428.46,235.81 L428.30,235.71 L428.17,235.59 L428.04,235.44 L427.92,235.26 L427.82,235.06 L427.73,234.84 L427.65,234.59 L427.58,234.32 L427.53,234.03 L427.49,233.72 L427.47,233.39 L427.46,233.04 L427.46,232.67 L427.48,232.28 L427.51,231.87 L427.56,231.45 L427.62,231.01 L427.69,230.56 L427.78,230.10 L427.88,229.62 L427.99,229.13 L428.12,228.64 L428.26,228.13 L428.42,227.62 L428.58,227.10 L428.76,226.57 L428.96,226.05 L429.16,225.51 L429.37,224.98 L429.60,224.45 L429.84,223.92 L430.08,223.39 L430.34,222.86 L430.61,222.34 L430.88,221.82 L431.16,221.31 L431.45,220.81 L431.75,220.32 L432.05,219.84 L432.36,219.37 L432.67,218.91 L432.99,218.47 L433.31,218.04 L433.64,217.63 L433.97,217.23 L434.30,216.86 L434.63,216.50 L434.96,216.16 L435.30,215.84 L435.63,215.54 L435.96,215.26 L436.29,215.00 L436.61,214.77 L436.93,214.56 L437.25,214.38 L437.57,214.22 L437.88,214.08 L438.18,213.97 L438.48,213.88 L438.77,213.83 L439.05,213.79 L439.32,213.78 L439.59,213.80 L439.84,213.85 L440.09,213.92 L440.33,214.01 L440.55,214.13 L440.77,214.28 L440.97,214.45 L441.16,214.65 L441.34,214.87 L441.51,215.12 L441.67,215.39 L441.81,215.68 L441.94,215.99 L442.05,216.33 L442.15,216.68 L442.24,217.06 L442.32,217.46 L442.38,217.87 L442.42,218.30 L442.45,218.75 L442.47,219.22 L442.47,219.70 L442.46,220.19 L442.44,220.70 L442.40,221.22 L442.35,221.75 L442.29,222.28 L442.21,222.83 L442.12,223.38 L442.01,223.94 L441.90,224.51 L441.77,225.07 L441.63,225.64 L441.48,226.22 L441.32,226.79 L441.15,227.36 L440.97,227.92 L440.77,228.49 L440.57,229.04 L440.36,229.60 L440.15,230.14 L439.92,230.68 L439.69,231.20 L439.46,231.72 L439.21,232.22 L438.97,232.71 L438.71,233.19 L438.46,233.65 L438.20,234.09 L437.94,234.52 L437.68,234.93 L437.41,235.32 L437.15,235.69 L436.88,236.05 L436.62,236.38 L436.36,236.68 L436.10,236.97 L435.84,237.23 L435.59,237.47 L435.34,237.69 L435.10,237.88 L434.86,238.04 L434.62,238.18 L434.40,238.30 L434.18,238.39 L433.97,238.45 L433.76,238.49 L433.57,238.50 L433.38,238.48 L433.21,238.44 L433.04,238.38 L432.89,238.28 L432.74,238.17 L432.61,238.02 L432.49,237.86 L432.38,237.67 L432.29,237.45 L432.21,237.21 L432.14,236.95 L432.08,236.67 L432.04,236.36 L432.01,236.04 L431.99,235.69 L431.99,235.33 L432.01,234.94 L432.03,234.54 L432.07,234.13 L432.13,233.69 L432.20,233.25 L432.28,232.79 L432.38,232.32 L432.49,231.83 L432.61,231.34 L432.75,230.83 L432.90,230.32 L433.06,229.81 L433.24,229.28 L433.42,228.76 L433.62,228.22 L433.84,227.69 L434.06,227.16 L434.29,226.63 L434.53,226.10 L434.79,225.57 L435.05,225.04 L435.32,224.53 L435.60,224.01 L435.89,223.51 L436.18,223.02 L436.48,222.53 L436.79,222.06 L437.10,221.60 L437.42,221.15 L437.74,220.72 L438.06,220.30 L438.39,219.90 L438.72,219.51 L439.05,219.15 L439.39,218.80 L439.72,218.47 L440.05,218.17 L440.38,217.88 L440.71,217.62 L441.04,217.38 L441.36,217.16 L441.68,216.97 L442.00,216.80 L442.31,216.66 L442.61,216.54 L442.91,216.44 L443.20,216.38 L443.49,216.33 L443.76,216.32 L444.03,216.33 L444.29,216.36 L444.54,216.42 L444.78,216.51 L445.01,216.62 L445.23,216.76 L445.44,216.93 L445.63,217.11 L445.82,217.33 L445.99,217.57 L446.15,217.83 L446.30,218.11 L446.43,218.42 L446.55,218.75 L446.65,219.10 L446.75,219.47 L446.83,219.86 L446.89,220.26 L446.94,220.69 L446.98,221.14 L447.00,221.59 L447.01,222.07 L447.00,222.56 L446.98,223.06 L446.95,223.58 L446.90,224.10 L446.84,224.64 L446.77,225.18 L446.68,225.73 L446.58,226.29 L446.47,226.85 L446.35,227.42 L446.21,227.99 L446.07,228.56 L445.91,229.13 L445.74,229.70 L445.56,230.27 L445.37,230.83 L445.17,231.39 L444.97,231.95 L444.75,232.49 L444.53,233.03 L444.30,233.56 L444.07,234.08 L443.83,234.59 L443.58,235.08 L443.33,235.56 L443.08,236.03 L442.82,236.48 L442.56,236.91 L442.30,237.33 L442.03,237.73 L441.77,238.11 L441.50,238.46 L441.24,238.80 L440.98,239.12 L440.72,239.41 L440.46,239.68 L440.21,239.93 L439.96,240.15 L439.71,240.35 L439.47,240.52 L439.23,240.67 L439.00,240.80 L438.78,240.89 L438.57,240.96 L438.36,241.01 L438.16,241.03 L437.98,241.02 L437.80,240.99 L437.63,240.93 L437.47,240.85 L437.32,240.74 L437.19,240.61 L437.06,240.45 L436.95,240.27 L436.85,240.06 L436.77,239.83 L436.69,239.57 L436.63,239.30 L436.58,239.00 L436.55,238.68 L436.53,238.34 L436.52,237.98 L436.53,237.61 L436.56,237.21 L436.59,236.80 L436.64,236.37 L436.71,235.93 L436.78,235.48 L436.88,235.01 L436.98,234.53 L437.10,234.04 L437.23,233.54 L437.38,233.03 L437.54,232.51 L437.71,231.99 L437.89,231.46 L438.09,230.94 L438.30,230.40 L438.52,229.87 L438.75,229.34 L438.99,228.81 L439.23,228.28" fill="none" stroke="#f03a2a" stroke-width="1.0" stroke-linejoin="round"/>
<path d="M431.18,208.91 Q430,204.5 422.5,206.8" fill="none" stroke="#f03a2a" stroke-width="1.0"/>
<path d="M417.5,208.0 L424.5,203.8 L424.0,210.8 Z" fill="#f03a2a"/>
<path d="M406.50,257.63 L406.36,257.56 L406.23,257.47 L406.11,257.36 L405.99,257.24 L405.89,257.10 L405.79,256.93 L405.70,256.76 L405.62,256.56 L405.55,256.34 L405.49,256.11 L405.45,255.87 L405.41,255.60 L405.38,255.33 L405.36,255.03 L405.35,254.72 L405.35,254.40 L405.37,254.07 L405.39,253.72 L405.42,253.36 L405.47,252.99 L405.52,252.61 L405.59,252.22 L405.66,251.82 L405.75,251.41 L405.85,250.99 L405.95,250.56 L406.07,250.13 L406.19,249.69 L406.33,249.25 L406.48,248.80 L406.63,248.35 L406.79,247.90 L406.97,247.45 L407.15,246.99 L407.34,246.54 L407.53,246.08 L407.74,245.63 L407.95,245.18 L408.17,244.73 L408.40,244.28 L408.63,243.84 L408.87,243.41 L409.12,242.98 L409.37,242.56 L409.62,242.14 L409.88,241.74 L410.15,241.34 L410.41,240.95 L410.69,240.58 L410.96,240.21 L411.24,239.86 L411.52,239.52 L411.80,239.19 L412.08,238.87 L412.36,238.57 L412.64,238.29 L412.93,238.02 L413.21,237.76 L413.49,237.52 L413.77,237.30 L414.05,237.10 L414.33,236.91 L414.60,236.74 L414.87,236.58 L415.14,236.45 L415.40,236.33 L415.66,236.24 L415.92,236.16 L416.17,236.10 L416.41,236.06 L416.65,236.04 L416.88,236.04 L417.11,236.06 L417.33,236.09 L417.54,236.15 L417.74,236.23 L417.94,236.32 L418.13,236.44 L418.31,236.57 L418.48,236.72 L418.64,236.89 L418.79,237.08 L418.94,237.28 L419.07,237.51 L419.19,237.75 L419.31,238.00 L419.41,238.28 L419.51,238.56 L419.59,238.87 L419.67,239.19 L419.73,239.52 L419.78,239.87 L419.83,240.23 L419.86,240.60 L419.88,240.98 L419.89,241.38 L419.89,241.79 L419.88,242.20 L419.86,242.63 L419.83,243.06 L419.79,243.50 L419.74,243.95 L419.68,244.41 L419.61,244.87 L419.53,245.33 L419.44,245.80 L419.34,246.28 L419.23,246.75 L419.12,247.23 L418.99,247.71 L418.86,248.18 L418.72,248.66 L418.57,249.13 L418.41,249.61 L418.25,250.08 L418.08,250.54 L417.90,251.00 L417.72,251.46 L417.53,251.91 L417.34,252.35 L417.14,252.78 L416.93,253.21 L416.73,253.63 L416.52,254.03 L416.30,254.43 L416.08,254.81 L415.87,255.19 L415.64,255.55 L415.42,255.89 L415.20,256.23 L414.97,256.55 L414.75,256.85 L414.52,257.14 L414.30,257.41 L414.07,257.67 L413.85,257.91 L413.63,258.13 L413.41,258.34 L413.20,258.53 L412.99,258.70 L412.78,258.85 L412.57,258.98 L412.37,259.10 L412.18,259.19 L411.99,259.27 L411.80,259.32 L411.62,259.36 L411.45,259.38 L411.28,259.38 L411.13,259.36 L410.97,259.32 L410.83,259.26 L410.69,259.18 L410.57,259.09 L410.45,258.97 L410.33,258.84 L410.23,258.69 L410.14,258.52 L410.06,258.33 L409.98,258.12 L409.92,257.90 L409.86,257.66 L409.82,257.41 L409.78,257.14 L409.76,256.85 L409.75,256.55 L409.74,256.24 L409.75,255.91 L409.77,255.57 L409.80,255.21 L409.84,254.85 L409.89,254.47 L409.95,254.09 L410.02,253.69 L410.10,253.28 L410.19,252.87 L410.29,252.45 L410.40,252.02 L410.52,251.59 L410.65,251.15 L410.79,250.70 L410.94,250.25 L411.10,249.80 L411.27,249.35 L411.45,248.89 L411.63,248.44 L411.83,247.98 L412.03,247.53 L412.24,247.08 L412.45,246.63 L412.68,246.18 L412.90,245.74 L413.14,245.30 L413.38,244.87 L413.63,244.44 L413.88,244.02 L414.14,243.61 L414.40,243.21 L414.67,242.82 L414.94,242.44 L415.21,242.07 L415.49,241.71 L415.77,241.36 L416.05,241.02 L416.33,240.70 L416.61,240.39 L416.89,240.10 L417.18,239.82 L417.46,239.56 L417.74,239.31 L418.02,239.08 L418.30,238.87 L418.58,238.67 L418.86,238.49 L419.13,238.33 L419.40,238.18 L419.66,238.06 L419.92,237.95 L420.18,237.86 L420.43,237.80 L420.68,237.75 L420.92,237.72 L421.16,237.70 L421.39,237.71 L421.61,237.74 L421.82,237.79 L422.03,237.85 L422.23,237.94 L422.42,238.04 L422.61,238.17 L422.78,238.31 L422.95,238.47 L423.11,238.65 L423.26,238.84 L423.40,239.06 L423.53,239.29 L423.65,239.54 L423.76,239.80 L423.86,240.08 L423.94,240.38 L424.02,240.69 L424.09,241.01 L424.15,241.35 L424.20,241.71 L424.24,242.07 L424.26,242.45 L424.28,242.84 L424.29,243.24 L424.28,243.65 L424.27,244.07 L424.24,244.50 L424.21,244.94 L424.16,245.39 L424.11,245.84 L424.04,246.30 L423.96,246.76 L423.88,247.23 L423.79,247.70 L423.68,248.17 L423.57,248.65 L423.45,249.13 L423.32,249.60 L423.18,250.08 L423.04,250.56 L422.89,251.03 L422.73,251.50 L422.56,251.97 L422.39,252.43 L422.21,252.89 L422.02,253.34 L421.83,253.79 L421.63,254.23 L421.43,254.66 L421.23,255.08 L421.02,255.49 L420.81,255.89 L420.59,256.28 L420.37,256.66 L420.15,257.03 L419.93,257.38 L419.71,257.72 L419.48,258.05 L419.26,258.36 L419.03,258.66 L418.81,258.94 L418.58,259.20 L418.36,259.45 L418.14,259.69 L417.92,259.90 L417.70,260.10 L417.49,260.28 L417.28,260.44 L417.07,260.58 L416.87,260.71 L416.67,260.81 L416.48,260.90 L416.29,260.96 L416.11,261.01 L415.93,261.04 L415.76,261.05 L415.60,261.04 L415.45,261.01 L415.30,260.96 L415.16,260.89 L415.02,260.81 L414.90,260.70 L414.78,260.58 L414.68,260.43 L414.58,260.27 L414.49,260.09 L414.41,259.90 L414.34,259.68 L414.28,259.45 L414.23,259.21 L414.20,258.95 L414.17,258.67 L414.15,258.38 L414.14,258.07 L414.14,257.75 L414.15,257.41 L414.18,257.07 L414.21,256.71 L414.25,256.34 L414.31,255.95 L414.37,255.56 L414.45,255.16 L414.53,254.75 L414.63,254.33 L414.74,253.91 L414.85,253.48 L414.98,253.04 L415.11,252.60 L415.26,252.15 L415.41,251.70 L415.58,251.25 L415.75,250.79 L415.93,250.34 L416.12,249.88 L416.32,249.43 L416.52,248.97 L416.73,248.52 L416.95,248.07 L417.18,247.63 L417.41,247.19 L417.65,246.75 L417.90,246.33 L418.15,245.90 L418.40,245.49 L418.66,245.08 L418.93,244.69 L419.19,244.30 L419.46,243.92 L419.74,243.56 L420.02,243.20 L420.29,242.86 L420.58,242.53 L420.86,242.22 L421.14,241.92 L421.42,241.63 L421.71,241.36 L421.99,241.10 L422.27,240.86 L422.55,240.64 L422.83,240.43 L423.11,240.25 L423.38,240.08 L423.65,239.92 L423.92,239.79 L424.18,239.67 L424.44,239.57 L424.70,239.50 L424.95,239.44 L425.19,239.40 L425.43,239.37 L425.66,239.37 L425.89,239.39 L426.11,239.43 L426.32,239.48 L426.52,239.56 L426.72,239.65 L426.91,239.77 L427.09,239.90 L427.26,240.05 L427.42,240.22 L427.57,240.41 L427.72,240.61 L427.85,240.83 L427.98,241.07 L428.09,241.33 L428.20,241.60 L428.29,241.89 L428.38,242.19 L428.45,242.51 L428.52,242.84 L428.57,243.19 L428.61,243.55 L428.65,243.92 L428.67,244.31 L428.68,244.70 L428.68,245.11 L428.67,245.52 L428.65,245.95 L428.62,246.38 L428.58,246.82 L428.53,247.27 L428.47,247.73 L428.40,248.19 L428.32,248.65 L428.23,249.12 L428.13,249.59 L428.02,250.07 L427.91,250.55 L427.78,251.02 L427.65,251.50 L427.51,251.98 L427.36,252.45 L427.20,252.93 L427.04,253.40 L426.87,253.86 L426.69,254.32 L426.51,254.78 L426.32,255.23 L426.13,255.67 L425.93,256.10 L425.73,256.53 L425.52,256.95 L425.31,257.35 L425.10,257.75 L424.88,258.13 L424.66,258.51 L424.44,258.87 L424.22,259.22 L423.99,259.55 L423.77,259.87 L423.54,260.17 L423.32,260.46 L423.09,260.74 L422.87,260.99 L422.65,261.24 L422.42,261.46 L422.21,261.67 L421.99,261.85 L421.78,262.02 L421.57,262.18 L421.37,262.31 L421.17,262.43 L420.97,262.52 L420.78,262.60 L420.60,262.66 L420.42,262.70 L420.24,262.71 L420.08,262.71 L419.92,262.69 L419.77,262.66 L419.62,262.60 L419.49,262.52 L419.36,262.42 L419.24,262.31 L419.13,262.18 L419.02,262.02 L418.93,261.86 L418.85,261.67 L418.77,261.46 L418.71,261.24 L418.65,261.00 L418.61,260.75 L418.57,260.48 L418.55,260.19 L418.54,259.89 L418.53,259.58 L418.54,259.25 L418.56,258.91 L418.58,258.56 L418.62,258.19 L418.67,257.82 L418.73,257.43 L418.80,257.04 L418.88,256.63 L418.97,256.22 L419.07,255.80 L419.19,255.37 L419.31,254.93 L419.44,254.49 L419.58,254.05 L419.73,253.60 L419.89,253.15 L420.05,252.70 L420.23,252.24 L420.41,251.78 L420.61,251.33 L420.81,250.87 L421.02,250.42 L421.23,249.97 L421.46,249.53 L421.69,249.08 L421.92,248.64 L422.16,248.21 L422.41,247.79 L422.66,247.37 L422.92,246.96" fill="none" stroke="#5a3a98" stroke-width="1.1" stroke-linejoin="round"/>
<path d="M406.50,257.63 C404,259 399.5,254 398.8,245.5" fill="none" stroke="#5a3a98" stroke-width="1.1"/>
<path d="M393.6,242.8 L399.5,238.6 L400.6,245.6 Z" fill="#5a3a98"/>
<text x="339.50" y="218.60" font-size="7.6" fill="#222" text-anchor="start" font-weight="bold" textLength="69.5" lengthAdjust="spacingAndGlyphs">Right-handed CPE</text>
<text x="338.90" y="266.50" font-size="7.6" fill="#222" text-anchor="start" font-weight="bold" textLength="63.5" lengthAdjust="spacingAndGlyphs">Left-handed CPE</text>
<text x="444.40" y="201.30" font-size="7.6" fill="#222" text-anchor="start" font-weight="bold" textLength="46.8" lengthAdjust="spacingAndGlyphs">520nm laser</text>
<text x="470.30" y="247.80" font-size="8.3" fill="#ee5a30" text-anchor="start" font-weight="bold" textLength="6.2" lengthAdjust="spacingAndGlyphs">Φ</text>
<text x="476.60" y="248.30" font-size="6.0" fill="#ee5a30" text-anchor="start" font-weight="bold" textLength="3.0" lengthAdjust="spacingAndGlyphs">e</text>
<text x="479.70" y="247.80" font-size="8.3" fill="#ee5a30" text-anchor="start" font-weight="bold" textLength="18.6" lengthAdjust="spacingAndGlyphs">=40°</text>
<text x="470.30" y="259.20" font-size="8.3" fill="#2a3a8a" text-anchor="start" font-weight="bold" textLength="6.2" lengthAdjust="spacingAndGlyphs">Φ</text>
<text x="476.60" y="259.70" font-size="6.0" fill="#2a3a8a" text-anchor="start" font-weight="bold" textLength="3.0" lengthAdjust="spacingAndGlyphs">e</text>
<text x="479.70" y="259.20" font-size="8.3" fill="#2a3a8a" text-anchor="start" font-weight="bold" textLength="18.6" lengthAdjust="spacingAndGlyphs">=50°</text>
<path d="M547.80,244.26 L548.39,244.38 L549.21,244.55 L550.19,244.74 L551.21,244.95 L552.20,245.14 L553.06,245.30 L553.80,245.47 L554.48,245.68 L555.12,245.88 L555.74,246.01 L556.37,246.01 L557.01,245.82 L557.68,245.36 L558.35,244.68 L559.03,243.87 L559.69,243.03 L560.34,242.26 L560.96,241.66 L561.55,241.21 L562.11,240.83 L562.65,240.52 L563.18,240.29 L563.71,240.15 L564.25,240.10 L564.76,240.11 L565.22,240.18 L565.69,240.33 L566.20,240.60 L566.80,241.03 L567.54,241.66 L568.45,242.52 L569.49,243.58 L570.62,244.81 L571.80,246.14 L572.99,247.53 L574.12,248.93 L575.22,250.39 L576.31,251.95 L577.41,253.58 L578.51,255.21 L579.60,256.79 L580.70,258.28 L581.81,259.77 L582.94,261.30 L584.07,262.80 L585.18,264.15 L586.26,265.28 L587.28,266.08 L588.25,266.55 L589.18,266.77 L590.08,266.76 L590.94,266.54 L591.76,266.13 L592.54,265.56 L593.29,264.81 L594.01,263.86 L594.68,262.73 L595.32,261.42 L595.93,259.94 L596.49,258.28 L597.03,256.30 L597.53,253.94 L597.99,251.40 L598.41,248.89 L598.79,246.62 L599.12,244.78 L599.38,243.32 L599.57,242.08 L599.72,241.08 L599.85,240.31 L599.99,239.81 L600.18,239.58 L600.40,239.76 L600.63,240.37 L600.87,241.24 L601.13,242.20 L601.43,243.09 L601.76,243.74 L602.12,244.18 L602.51,244.57 L602.92,244.87 L603.37,245.10 L603.86,245.25 L604.39,245.30 L604.98,245.23 L605.63,245.05 L606.32,244.78 L607.02,244.45 L607.70,244.09 L608.34,243.74 L608.92,243.27 L609.48,242.64 L610.02,241.98 L610.55,241.43 L611.09,241.10 L611.63,241.14 L612.17,241.50 L612.70,242.06 L613.23,242.86 L613.77,243.91 L614.33,245.24 L614.92,246.85 L615.54,248.87 L616.18,251.28 L616.85,253.97 L617.52,256.80 L618.20,259.67 L618.86,262.44 L619.52,265.20 L620.18,268.06 L620.84,270.95 L621.50,273.79 L622.15,276.52 L622.81,279.06 L623.47,281.48 L624.13,283.84 L624.79,286.08 L625.44,288.15 L626.10,289.98 L626.76,291.53 L627.42,292.76 L628.08,293.71 L628.73,294.42 L629.39,294.96 L630.05,295.36 L630.71,295.69 L631.35,295.91 L631.98,295.98 L632.60,295.92 L633.24,295.75 L633.92,295.49 L634.66,295.17 L635.44,294.80 L636.26,294.36 L637.12,293.84 L638.02,293.21 L638.95,292.44 L639.92,291.53 L640.94,290.44 L642.02,289.18 L643.13,287.80 L644.26,286.32 L645.39,284.78 L646.50,283.22 L647.60,281.61 L648.69,279.91 L649.79,278.15 L650.89,276.37 L651.98,274.59 L653.08,272.83 L654.18,271.07 L655.27,269.29 L656.37,267.51 L657.47,265.75 L658.56,264.05 L659.66,262.44 L660.76,260.92 L661.85,259.48 L662.95,258.09 L664.05,256.74 L665.14,255.43 L666.24,254.13 L667.34,252.85 L668.43,251.61 L669.53,250.39 L670.63,249.20 L671.72,248.03 L672.82,246.85 L673.99,245.62 L675.26,244.32 L676.52,243.02 L677.69,241.83 L678.68,240.83 L679.40,240.10" fill="none" stroke="#f0484c" stroke-width="0.9" stroke-linejoin="round" stroke-linecap="butt"/>
<path d="M547.80,239.06 L548.21,239.33 L548.77,239.70 L549.44,240.13 L550.19,240.62 L550.97,241.14 L551.75,241.66 L552.56,242.24 L553.45,242.91 L554.38,243.61 L555.31,244.28 L556.20,244.86 L557.01,245.30 L557.73,245.55 L558.38,245.64 L558.99,245.65 L559.60,245.64 L560.24,245.68 L560.96,245.82 L561.76,246.04 L562.62,246.28 L563.51,246.56 L564.42,246.91 L565.33,247.35 L566.22,247.89 L567.10,248.57 L567.98,249.36 L568.86,250.23 L569.73,251.16 L570.61,252.13 L571.49,253.09 L572.37,254.09 L573.24,255.15 L574.12,256.24 L575.00,257.32 L575.87,258.36 L576.75,259.32 L577.63,260.21 L578.51,261.05 L579.38,261.86 L580.26,262.61 L581.14,263.33 L582.02,264.00 L582.89,264.66 L583.77,265.31 L584.65,265.91 L585.53,266.44 L586.40,266.85 L587.28,267.12 L588.17,267.22 L589.08,267.21 L589.99,267.08 L590.89,266.85 L591.74,266.51 L592.54,266.08 L593.28,265.56 L593.96,264.96 L594.60,264.26 L595.22,263.44 L595.85,262.49 L596.49,261.40 L597.15,260.16 L597.81,258.78 L598.47,257.28 L599.12,255.65 L599.78,253.90 L600.44,252.05 L601.10,249.96 L601.76,247.59 L602.41,245.10 L603.07,242.66 L603.73,240.42 L604.39,238.54 L605.05,236.97 L605.73,235.58 L606.40,234.39 L607.07,233.42 L607.72,232.72 L608.34,232.31 L608.92,232.16 L609.48,232.23 L610.02,232.57 L610.55,233.19 L611.09,234.14 L611.63,235.43 L612.18,237.19 L612.75,239.43 L613.31,241.98 L613.87,244.70 L614.41,247.42 L614.92,249.97 L615.40,252.52 L615.87,255.21 L616.31,257.89 L616.74,260.44 L617.16,262.69 L617.55,264.52 L617.90,265.96 L618.21,267.13 L618.49,268.02 L618.79,268.60 L619.12,268.82 L619.52,268.67 L619.99,268.03 L620.50,266.90 L621.04,265.43 L621.62,263.75 L622.21,262.01 L622.81,260.36 L623.43,258.73 L624.08,256.98 L624.74,255.17 L625.42,253.36 L626.09,251.61 L626.76,249.97 L627.42,248.44 L628.08,246.95 L628.73,245.52 L629.39,244.16 L630.05,242.87 L630.71,241.66 L631.35,240.55 L631.98,239.52 L632.60,238.58 L633.24,237.68 L633.92,236.81 L634.66,235.95 L635.44,235.11 L636.26,234.33 L637.12,233.58 L638.02,232.83 L638.95,232.07 L639.92,231.27 L640.94,230.42 L642.02,229.52 L643.13,228.61 L644.26,227.71 L645.39,226.86 L646.50,226.07 L647.60,225.37 L648.69,224.71 L649.79,224.09 L650.89,223.52 L651.98,222.97 L653.08,222.44 L654.18,221.95 L655.27,221.50 L656.37,221.07 L657.47,220.67 L658.56,220.26 L659.66,219.84 L660.76,219.40 L661.85,218.94 L662.95,218.48 L664.05,218.03 L665.14,217.62 L666.24,217.24 L667.34,216.92 L668.43,216.65 L669.53,216.40 L670.63,216.17 L671.72,215.93 L672.82,215.69 L673.99,215.41 L675.26,215.11 L676.52,214.81 L677.69,214.53 L678.68,214.30 L679.40,214.13" fill="none" stroke="#2424ee" stroke-width="0.9" stroke-linejoin="round" stroke-linecap="butt"/>
<rect x="547.8" y="200.1" width="131.60000000000002" height="103.9" fill="none" stroke="#888" stroke-width="0.8"/>
<line x1="546.20" y1="200.10" x2="547.80" y2="200.10" stroke="#666" stroke-width="0.6"/>
<text x="544.30" y="202.00" font-size="5.4" fill="#222" text-anchor="end" font-weight="bold">1.0</text>
<line x1="546.20" y1="220.88" x2="547.80" y2="220.88" stroke="#666" stroke-width="0.6"/>
<text x="544.30" y="222.78" font-size="5.4" fill="#222" text-anchor="end" font-weight="bold">0.8</text>
<line x1="546.20" y1="241.66" x2="547.80" y2="241.66" stroke="#666" stroke-width="0.6"/>
<text x="544.30" y="243.56" font-size="5.4" fill="#222" text-anchor="end" font-weight="bold">0.6</text>
<line x1="546.20" y1="262.44" x2="547.80" y2="262.44" stroke="#666" stroke-width="0.6"/>
<text x="544.30" y="264.34" font-size="5.4" fill="#222" text-anchor="end" font-weight="bold">0.4</text>
<line x1="546.20" y1="283.22" x2="547.80" y2="283.22" stroke="#666" stroke-width="0.6"/>
<text x="544.30" y="285.12" font-size="5.4" fill="#222" text-anchor="end" font-weight="bold">0.2</text>
<line x1="546.20" y1="304.00" x2="547.80" y2="304.00" stroke="#666" stroke-width="0.6"/>
<text x="544.30" y="305.90" font-size="5.4" fill="#222" text-anchor="end" font-weight="bold">0.0</text>
<line x1="546.90" y1="210.49" x2="547.80" y2="210.49" stroke="#666" stroke-width="0.5"/>
<line x1="546.90" y1="231.27" x2="547.80" y2="231.27" stroke="#666" stroke-width="0.5"/>
<line x1="546.90" y1="252.05" x2="547.80" y2="252.05" stroke="#666" stroke-width="0.5"/>
<line x1="546.90" y1="272.83" x2="547.80" y2="272.83" stroke="#666" stroke-width="0.5"/>
<line x1="546.90" y1="293.61" x2="547.80" y2="293.61" stroke="#666" stroke-width="0.5"/>
<line x1="547.80" y1="304.00" x2="547.80" y2="305.60" stroke="#666" stroke-width="0.6"/>
<text x="547.80" y="312.30" font-size="5.4" fill="#222" text-anchor="middle" font-weight="bold">600</text>
<line x1="574.12" y1="304.00" x2="574.12" y2="305.60" stroke="#666" stroke-width="0.6"/>
<text x="574.12" y="312.30" font-size="5.4" fill="#222" text-anchor="middle" font-weight="bold">620</text>
<line x1="600.44" y1="304.00" x2="600.44" y2="305.60" stroke="#666" stroke-width="0.6"/>
<text x="600.44" y="312.30" font-size="5.4" fill="#222" text-anchor="middle" font-weight="bold">640</text>
<line x1="626.76" y1="304.00" x2="626.76" y2="305.60" stroke="#666" stroke-width="0.6"/>
<text x="626.76" y="312.30" font-size="5.4" fill="#222" text-anchor="middle" font-weight="bold">660</text>
<line x1="653.08" y1="304.00" x2="653.08" y2="305.60" stroke="#666" stroke-width="0.6"/>
<text x="653.08" y="312.30" font-size="5.4" fill="#222" text-anchor="middle" font-weight="bold">680</text>
<line x1="679.40" y1="304.00" x2="679.40" y2="305.60" stroke="#666" stroke-width="0.6"/>
<text x="679.40" y="312.30" font-size="5.4" fill="#222" text-anchor="middle" font-weight="bold">700</text>
<line x1="560.96" y1="304.00" x2="560.96" y2="304.90" stroke="#666" stroke-width="0.5"/>
<line x1="587.28" y1="304.00" x2="587.28" y2="304.90" stroke="#666" stroke-width="0.5"/>
<line x1="613.60" y1="304.00" x2="613.60" y2="304.90" stroke="#666" stroke-width="0.5"/>
<line x1="639.92" y1="304.00" x2="639.92" y2="304.90" stroke="#666" stroke-width="0.5"/>
<line x1="666.24" y1="304.00" x2="666.24" y2="304.90" stroke="#666" stroke-width="0.5"/>
<text x="613.80" y="323.00" font-size="7.2" fill="#222" text-anchor="middle" font-weight="bold" textLength="55" lengthAdjust="spacingAndGlyphs">Wavelength (nm)</text>
<text x="534.40" y="252.80" font-size="7.2" fill="#222" text-anchor="middle" font-weight="bold" textLength="38.5" lengthAdjust="spacingAndGlyphs" transform="rotate(-90 534.40 252.80)">Reflectance</text>
<text x="551.60" y="210.70" font-size="6.6" fill="#222" text-anchor="start" font-weight="bold" textLength="87.7" lengthAdjust="spacingAndGlyphs">Incident angle: 50 degrees</text>
<text x="552.60" y="274.00" font-size="6.4" fill="#222" text-anchor="start" font-weight="bold">ΔR</text>
<text x="562.00" y="275.50" font-size="4.2" fill="#222" text-anchor="start" font-weight="bold">0</text>
<text x="565.00" y="274.00" font-size="6.4" fill="#222" text-anchor="start" font-weight="bold" textLength="22" lengthAdjust="spacingAndGlyphs">= 0.571</text>
<text x="554.00" y="284.20" font-size="6.4" fill="#222" text-anchor="start" font-weight="bold" textLength="29.5" lengthAdjust="spacingAndGlyphs">at 663 nm</text>
<line x1="553.00" y1="290.70" x2="565.20" y2="290.70" stroke="#f0484c" stroke-width="0.9"/>
<text x="567.00" y="293.00" font-size="6.4" fill="#222" text-anchor="start" font-weight="bold" textLength="14" lengthAdjust="spacingAndGlyphs">LCP</text>
<line x1="553.00" y1="298.20" x2="565.20" y2="298.20" stroke="#2424ee" stroke-width="0.9"/>
<text x="567.00" y="300.50" font-size="6.4" fill="#222" text-anchor="start" font-weight="bold" textLength="14" lengthAdjust="spacingAndGlyphs">RCP</text>
<circle cx="635.1" cy="231.9" r="5.9" fill="none" stroke="#111" stroke-width="1.2"/>
<text x="645.00" y="235.60" font-size="10" fill="#111" text-anchor="start" font-weight="bold" textLength="7" lengthAdjust="spacingAndGlyphs">D</text>
<circle cx="633.6" cy="295.2" r="6.2" fill="none" stroke="#111" stroke-width="1.2"/>
<text x="646.20" y="298.90" font-size="10" fill="#111" text-anchor="start" font-weight="bold" textLength="7.3" lengthAdjust="spacingAndGlyphs">C</text>
</svg>
</body></html>
